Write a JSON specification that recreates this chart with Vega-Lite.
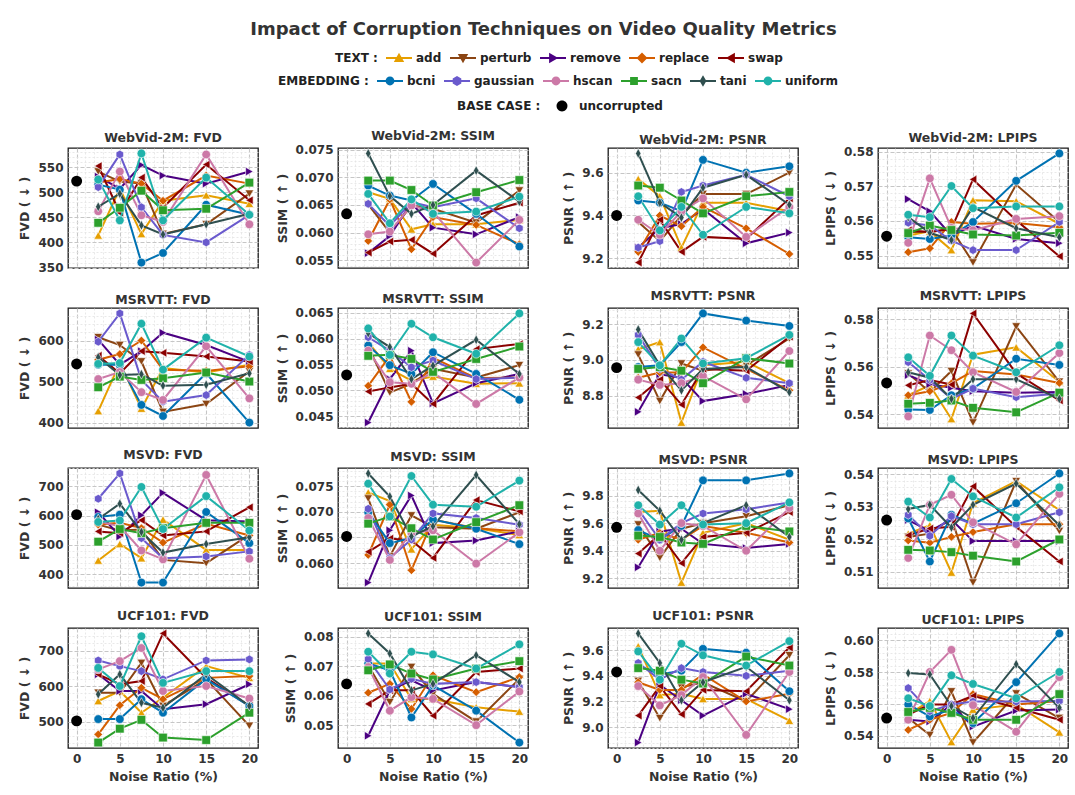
{
"$schema": "https://vega.github.io/schema/vega-lite/v6.json",
"title": {"text": "Impact of Corruption Techniques on Video Quality Metrics", "fontSize": 18, "font": "DejaVu Sans", "fontWeight": "bold", "color": "#333333", "anchor": "middle", "frame": "bounds", "offset": 6},
"padding": {"left": 18, "top": 21, "right": 5, "bottom": 5},
"spacing": 43,
"bounds": "flush",
"config": {
 "font": "DejaVu Sans",
 "view": {"stroke": "#1a1a1a", "strokeWidth": 1.3},
 "axis": {"labelFont": "DejaVu Sans", "labelFontSize": 12, "labelFontWeight": "bold", "labelColor": "#333333", "titleFont": "DejaVu Sans", "titleFontSize": 12.5, "titleFontWeight": "bold", "titleColor": "#333333", "ticks": false, "domain": false, "labelOverlap": false, "labelFlush": false, "labelPadding": 5, "titlePadding": 6, "grid": true},
 "title": {"font": "DejaVu Sans", "fontSize": 12.5, "fontWeight": "bold", "color": "#333333", "offset": 1},
 "legend": {"labelFont": "DejaVu Sans", "labelFontSize": 12, "labelFontWeight": "bold", "labelColor": "#222222", "titleFont": "DejaVu Sans", "titleFontSize": 12, "titleFontWeight": "bold", "titleColor": "#222222"}
},
"datasets": {
"p1": [
{"s":"add","x":2.5,"y":414},{"s":"add","x":5,"y":507},{"s":"add","x":7.5,"y":417},{"s":"add","x":10,"y":483},{"s":"add","x":15,"y":494},{"s":"add","x":20,"y":477},
{"s":"perturb","x":2.5,"y":541},{"s":"perturb","x":5,"y":521},{"s":"perturb","x":7.5,"y":517},{"s":"perturb","x":10,"y":417},{"s":"perturb","x":15,"y":436},{"s":"perturb","x":20,"y":497},
{"s":"remove","x":2.5,"y":531},{"s":"remove","x":5,"y":507},{"s":"remove","x":7.5,"y":554},{"s":"remove","x":10,"y":533},{"s":"remove","x":15,"y":517},{"s":"remove","x":20,"y":541},
{"s":"replace","x":2.5,"y":519},{"s":"replace","x":5,"y":526},{"s":"replace","x":7.5,"y":517},{"s":"replace","x":10,"y":483},{"s":"replace","x":15,"y":533},{"s":"replace","x":20,"y":517},
{"s":"swap","x":2.5,"y":552},{"s":"swap","x":5,"y":459},{"s":"swap","x":7.5,"y":529},{"s":"swap","x":10,"y":469},{"s":"swap","x":15,"y":555},{"s":"swap","x":20,"y":484},
{"s":"bcni","x":2.5,"y":515},{"s":"bcni","x":5,"y":505},{"s":"bcni","x":7.5,"y":360},{"s":"bcni","x":10,"y":379},{"s":"bcni","x":15,"y":475},{"s":"bcni","x":20,"y":455},
{"s":"gaussian","x":2.5,"y":510},{"s":"gaussian","x":5,"y":575},{"s":"gaussian","x":7.5,"y":470},{"s":"gaussian","x":10,"y":415},{"s":"gaussian","x":15,"y":400},{"s":"gaussian","x":20,"y":455},
{"s":"hscan","x":2.5,"y":462},{"s":"hscan","x":5,"y":541},{"s":"hscan","x":7.5,"y":454},{"s":"hscan","x":10,"y":441},{"s":"hscan","x":15,"y":575},{"s":"hscan","x":20,"y":436},
{"s":"sacn","x":2.5,"y":439},{"s":"sacn","x":5,"y":469},{"s":"sacn","x":7.5,"y":503},{"s":"sacn","x":10,"y":464},{"s":"sacn","x":15,"y":467},{"s":"sacn","x":20,"y":519},
{"s":"tani","x":2.5,"y":471},{"s":"tani","x":5,"y":497},{"s":"tani","x":7.5,"y":434},{"s":"tani","x":10,"y":416},{"s":"tani","x":15,"y":436},{"s":"tani","x":20,"y":457},
{"s":"uniform","x":2.5,"y":525},{"s":"uniform","x":5,"y":444},{"s":"uniform","x":7.5,"y":577},{"s":"uniform","x":10,"y":444},{"s":"uniform","x":15,"y":529},{"s":"uniform","x":20,"y":455},
{"s":"uncorrupted","x":0,"y":522}],
"p2": [
{"s":"add","x":2.5,"y":0.0673},{"s":"add","x":5,"y":0.0661},{"s":"add","x":7.5,"y":0.0606},{"s":"add","x":10,"y":0.0615},{"s":"add","x":15,"y":0.0615},{"s":"add","x":20,"y":0.0623},
{"s":"perturb","x":2.5,"y":0.0651},{"s":"perturb","x":5,"y":0.06},{"s":"perturb","x":7.5,"y":0.0649},{"s":"perturb","x":10,"y":0.0643},{"s":"perturb","x":15,"y":0.0618},{"s":"perturb","x":20,"y":0.0676},
{"s":"remove","x":2.5,"y":0.0563},{"s":"remove","x":5,"y":0.0594},{"s":"remove","x":7.5,"y":0.0654},{"s":"remove","x":10,"y":0.0609},{"s":"remove","x":15,"y":0.0597},{"s":"remove","x":20,"y":0.0628},
{"s":"replace","x":2.5,"y":0.0585},{"s":"replace","x":5,"y":0.066},{"s":"replace","x":7.5,"y":0.057},{"s":"replace","x":10,"y":0.0628},{"s":"replace","x":15,"y":0.0614},{"s":"replace","x":20,"y":0.0579},
{"s":"swap","x":2.5,"y":0.0564},{"s":"swap","x":5,"y":0.0584},{"s":"swap","x":7.5,"y":0.0587},{"s":"swap","x":10,"y":0.0562},{"s":"swap","x":15,"y":0.0631},{"s":"swap","x":20,"y":0.0654},
{"s":"bcni","x":2.5,"y":0.0685},{"s":"bcni","x":5,"y":0.0667},{"s":"bcni","x":7.5,"y":0.0658},{"s":"bcni","x":10,"y":0.0688},{"s":"bcni","x":15,"y":0.0634},{"s":"bcni","x":20,"y":0.0575},
{"s":"gaussian","x":2.5,"y":0.0652},{"s":"gaussian","x":5,"y":0.0612},{"s":"gaussian","x":7.5,"y":0.0655},{"s":"gaussian","x":10,"y":0.0646},{"s":"gaussian","x":15,"y":0.0662},{"s":"gaussian","x":20,"y":0.0608},
{"s":"hscan","x":2.5,"y":0.0597},{"s":"hscan","x":5,"y":0.0602},{"s":"hscan","x":7.5,"y":0.0649},{"s":"hscan","x":10,"y":0.0638},{"s":"hscan","x":15,"y":0.0546},{"s":"hscan","x":20,"y":0.0623},
{"s":"sacn","x":2.5,"y":0.0694},{"s":"sacn","x":5,"y":0.0694},{"s":"sacn","x":7.5,"y":0.0677},{"s":"sacn","x":10,"y":0.0649},{"s":"sacn","x":15,"y":0.0673},{"s":"sacn","x":20,"y":0.0695},
{"s":"tani","x":2.5,"y":0.0743},{"s":"tani","x":5,"y":0.0666},{"s":"tani","x":7.5,"y":0.0634},{"s":"tani","x":10,"y":0.065},{"s":"tani","x":15,"y":0.0712},{"s":"tani","x":20,"y":0.0656},
{"s":"uniform","x":2.5,"y":0.067},{"s":"uniform","x":5,"y":0.0617},{"s":"uniform","x":7.5,"y":0.066},{"s":"uniform","x":10,"y":0.0634},{"s":"uniform","x":15,"y":0.0638},{"s":"uniform","x":20,"y":0.0665},
{"s":"uncorrupted","x":0,"y":0.0634}],
"p3": [
{"s":"add","x":2.5,"y":9.57},{"s":"add","x":5,"y":9.49},{"s":"add","x":7.5,"y":9.25},{"s":"add","x":10,"y":9.46},{"s":"add","x":15,"y":9.46},{"s":"add","x":20,"y":9.42},
{"s":"perturb","x":2.5,"y":9.37},{"s":"perturb","x":5,"y":9.28},{"s":"perturb","x":7.5,"y":9.4},{"s":"perturb","x":10,"y":9.5},{"s":"perturb","x":15,"y":9.5},{"s":"perturb","x":20,"y":9.6},
{"s":"remove","x":2.5,"y":9.25},{"s":"remove","x":5,"y":9.34},{"s":"remove","x":7.5,"y":9.36},{"s":"remove","x":10,"y":9.43},{"s":"remove","x":15,"y":9.27},{"s":"remove","x":20,"y":9.32},
{"s":"replace","x":2.5,"y":9.23},{"s":"replace","x":5,"y":9.4},{"s":"replace","x":7.5,"y":9.35},{"s":"replace","x":10,"y":9.44},{"s":"replace","x":15,"y":9.34},{"s":"replace","x":20,"y":9.22},
{"s":"swap","x":2.5,"y":9.18},{"s":"swap","x":5,"y":9.38},{"s":"swap","x":7.5,"y":9.23},{"s":"swap","x":10,"y":9.3},{"s":"swap","x":15,"y":9.29},{"s":"swap","x":20,"y":9.48},
{"s":"bcni","x":2.5,"y":9.47},{"s":"bcni","x":5,"y":9.46},{"s":"bcni","x":7.5,"y":9.42},{"s":"bcni","x":10,"y":9.66},{"s":"bcni","x":15,"y":9.6},{"s":"bcni","x":20,"y":9.63},
{"s":"gaussian","x":2.5,"y":9.25},{"s":"gaussian","x":5,"y":9.28},{"s":"gaussian","x":7.5,"y":9.51},{"s":"gaussian","x":10,"y":9.54},{"s":"gaussian","x":15,"y":9.59},{"s":"gaussian","x":20,"y":9.49},
{"s":"hscan","x":2.5,"y":9.38},{"s":"hscan","x":5,"y":9.31},{"s":"hscan","x":7.5,"y":9.42},{"s":"hscan","x":10,"y":9.48},{"s":"hscan","x":15,"y":9.3},{"s":"hscan","x":20,"y":9.44},
{"s":"sacn","x":2.5,"y":9.54},{"s":"sacn","x":5,"y":9.53},{"s":"sacn","x":7.5,"y":9.47},{"s":"sacn","x":10,"y":9.41},{"s":"sacn","x":15,"y":9.49},{"s":"sacn","x":20,"y":9.51},
{"s":"tani","x":2.5,"y":9.69},{"s":"tani","x":5,"y":9.46},{"s":"tani","x":7.5,"y":9.39},{"s":"tani","x":10,"y":9.53},{"s":"tani","x":15,"y":9.59},{"s":"tani","x":20,"y":9.45},
{"s":"uniform","x":2.5,"y":9.49},{"s":"uniform","x":5,"y":9.33},{"s":"uniform","x":7.5,"y":9.44},{"s":"uniform","x":10,"y":9.31},{"s":"uniform","x":15,"y":9.44},{"s":"uniform","x":20,"y":9.41},
{"s":"uncorrupted","x":0,"y":9.4}],
"p4": [
{"s":"add","x":2.5,"y":0.5558},{"s":"add","x":5,"y":0.557},{"s":"add","x":7.5,"y":0.5516},{"s":"add","x":10,"y":0.566},{"s":"add","x":15,"y":0.5657},{"s":"add","x":20,"y":0.5592},
{"s":"perturb","x":2.5,"y":0.5568},{"s":"perturb","x":5,"y":0.5568},{"s":"perturb","x":7.5,"y":0.5577},{"s":"perturb","x":10,"y":0.548},{"s":"perturb","x":15,"y":0.5705},{"s":"perturb","x":20,"y":0.5597},
{"s":"remove","x":2.5,"y":0.5663},{"s":"remove","x":5,"y":0.5628},{"s":"remove","x":7.5,"y":0.5558},{"s":"remove","x":10,"y":0.5587},{"s":"remove","x":15,"y":0.5548},{"s":"remove","x":20,"y":0.5536},
{"s":"replace","x":2.5,"y":0.551},{"s":"replace","x":5,"y":0.5521},{"s":"replace","x":7.5,"y":0.5597},{"s":"replace","x":10,"y":0.5592},{"s":"replace","x":15,"y":0.5594},{"s":"replace","x":20,"y":0.5582},
{"s":"swap","x":2.5,"y":0.5573},{"s":"swap","x":5,"y":0.5568},{"s":"swap","x":7.5,"y":0.5577},{"s":"swap","x":10,"y":0.572},{"s":"swap","x":15,"y":0.5602},{"s":"swap","x":20,"y":0.5498},
{"s":"bcni","x":2.5,"y":0.5553},{"s":"bcni","x":5,"y":0.5548},{"s":"bcni","x":7.5,"y":0.5558},{"s":"bcni","x":10,"y":0.5597},{"s":"bcni","x":15,"y":0.5716},{"s":"bcni","x":20,"y":0.5795},
{"s":"gaussian","x":2.5,"y":0.5595},{"s":"gaussian","x":5,"y":0.5587},{"s":"gaussian","x":7.5,"y":0.5543},{"s":"gaussian","x":10,"y":0.5516},{"s":"gaussian","x":15,"y":0.5516},{"s":"gaussian","x":20,"y":0.5597},
{"s":"hscan","x":2.5,"y":0.5537},{"s":"hscan","x":5,"y":0.5723},{"s":"hscan","x":7.5,"y":0.558},{"s":"hscan","x":10,"y":0.5573},{"s":"hscan","x":15,"y":0.5606},{"s":"hscan","x":20,"y":0.5614},
{"s":"sacn","x":2.5,"y":0.5565},{"s":"sacn","x":5,"y":0.5587},{"s":"sacn","x":7.5,"y":0.5574},{"s":"sacn","x":10,"y":0.5561},{"s":"sacn","x":15,"y":0.5558},{"s":"sacn","x":20,"y":0.5566},
{"s":"tani","x":2.5,"y":0.5611},{"s":"tani","x":5,"y":0.5566},{"s":"tani","x":7.5,"y":0.5545},{"s":"tani","x":10,"y":0.564},{"s":"tani","x":15,"y":0.5579},{"s":"tani","x":20,"y":0.5553},
{"s":"uniform","x":2.5,"y":0.5618},{"s":"uniform","x":5,"y":0.5611},{"s":"uniform","x":7.5,"y":0.5701},{"s":"uniform","x":10,"y":0.5637},{"s":"uniform","x":15,"y":0.5642},{"s":"uniform","x":20,"y":0.5642},
{"s":"uncorrupted","x":0,"y":0.5556}],
"p5": [
{"s":"add","x":2.5,"y":428},{"s":"add","x":5,"y":545},{"s":"add","x":7.5,"y":434},{"s":"add","x":10,"y":533},{"s":"add","x":15,"y":522},{"s":"add","x":20,"y":541},
{"s":"perturb","x":2.5,"y":608},{"s":"perturb","x":5,"y":589},{"s":"perturb","x":7.5,"y":549},{"s":"perturb","x":10,"y":426},{"s":"perturb","x":15,"y":445},{"s":"perturb","x":20,"y":525},
{"s":"remove","x":2.5,"y":602},{"s":"remove","x":5,"y":541},{"s":"remove","x":7.5,"y":574},{"s":"remove","x":10,"y":619},{"s":"remove","x":15,"y":589},{"s":"remove","x":20,"y":548},
{"s":"replace","x":2.5,"y":553},{"s":"replace","x":5,"y":567},{"s":"replace","x":7.5,"y":600},{"s":"replace","x":10,"y":529},{"s":"replace","x":15,"y":526},{"s":"replace","x":20,"y":537},
{"s":"swap","x":2.5,"y":563},{"s":"swap","x":5,"y":520},{"s":"swap","x":7.5,"y":574},{"s":"swap","x":10,"y":570},{"s":"swap","x":15,"y":561},{"s":"swap","x":20,"y":549},
{"s":"bcni","x":2.5,"y":541},{"s":"bcni","x":5,"y":541},{"s":"bcni","x":7.5,"y":443},{"s":"bcni","x":10,"y":416},{"s":"bcni","x":15,"y":520},{"s":"bcni","x":20,"y":400},
{"s":"gaussian","x":2.5,"y":597},{"s":"gaussian","x":5,"y":666},{"s":"gaussian","x":7.5,"y":504},{"s":"gaussian","x":10,"y":451},{"s":"gaussian","x":15,"y":467},{"s":"gaussian","x":20,"y":565},
{"s":"hscan","x":2.5,"y":506},{"s":"hscan","x":5,"y":523},{"s":"hscan","x":7.5,"y":474},{"s":"hscan","x":10,"y":455},{"s":"hscan","x":15,"y":586},{"s":"hscan","x":20,"y":459},
{"s":"sacn","x":2.5,"y":486},{"s":"sacn","x":5,"y":512},{"s":"sacn","x":7.5,"y":504},{"s":"sacn","x":10,"y":508},{"s":"sacn","x":15,"y":522},{"s":"sacn","x":20,"y":500},
{"s":"tani","x":2.5,"y":559},{"s":"tani","x":5,"y":516},{"s":"tani","x":7.5,"y":518},{"s":"tani","x":10,"y":490},{"s":"tani","x":15,"y":492},{"s":"tani","x":20,"y":520},
{"s":"uniform","x":2.5,"y":543},{"s":"uniform","x":5,"y":545},{"s":"uniform","x":7.5,"y":641},{"s":"uniform","x":10,"y":529},{"s":"uniform","x":15,"y":607},{"s":"uniform","x":20,"y":561},
{"s":"uncorrupted","x":0,"y":543}],
"p6": [
{"s":"add","x":2.5,"y":0.0593},{"s":"add","x":5,"y":0.0542},{"s":"add","x":7.5,"y":0.0519},{"s":"add","x":10,"y":0.0527},{"s":"add","x":15,"y":0.0513},{"s":"add","x":20,"y":0.0514},
{"s":"perturb","x":2.5,"y":0.0585},{"s":"perturb","x":5,"y":0.0496},{"s":"perturb","x":7.5,"y":0.0513},{"s":"perturb","x":10,"y":0.0542},{"s":"perturb","x":15,"y":0.0525},{"s":"perturb","x":20,"y":0.0549},
{"s":"remove","x":2.5,"y":0.0438},{"s":"remove","x":5,"y":0.0522},{"s":"remove","x":7.5,"y":0.0577},{"s":"remove","x":10,"y":0.0475},{"s":"remove","x":15,"y":0.0514},{"s":"remove","x":20,"y":0.0532},
{"s":"replace","x":2.5,"y":0.0509},{"s":"replace","x":5,"y":0.0567},{"s":"replace","x":7.5,"y":0.0478},{"s":"replace","x":10,"y":0.0563},{"s":"replace","x":15,"y":0.0524},{"s":"replace","x":20,"y":0.0525},
{"s":"swap","x":2.5,"y":0.0498},{"s":"swap","x":5,"y":0.0506},{"s":"swap","x":7.5,"y":0.0513},{"s":"swap","x":10,"y":0.0474},{"s":"swap","x":15,"y":0.058},{"s":"swap","x":20,"y":0.059},
{"s":"bcni","x":2.5,"y":0.0587},{"s":"bcni","x":5,"y":0.0549},{"s":"bcni","x":7.5,"y":0.0532},{"s":"bcni","x":10,"y":0.0574},{"s":"bcni","x":15,"y":0.0532},{"s":"bcni","x":20,"y":0.0482},
{"s":"gaussian","x":2.5,"y":0.0603},{"s":"gaussian","x":5,"y":0.0577},{"s":"gaussian","x":7.5,"y":0.0545},{"s":"gaussian","x":10,"y":0.0558},{"s":"gaussian","x":15,"y":0.0522},{"s":"gaussian","x":20,"y":0.0525},
{"s":"hscan","x":2.5,"y":0.0577},{"s":"hscan","x":5,"y":0.0516},{"s":"hscan","x":7.5,"y":0.0513},{"s":"hscan","x":10,"y":0.0535},{"s":"hscan","x":15,"y":0.0474},{"s":"hscan","x":20,"y":0.0525},
{"s":"sacn","x":2.5,"y":0.0567},{"s":"sacn","x":5,"y":0.0569},{"s":"sacn","x":7.5,"y":0.0561},{"s":"sacn","x":10,"y":0.0536},{"s":"sacn","x":15,"y":0.0561},{"s":"sacn","x":20,"y":0.0585},
{"s":"tani","x":2.5,"y":0.0611},{"s":"tani","x":5,"y":0.0584},{"s":"tani","x":7.5,"y":0.0522},{"s":"tani","x":10,"y":0.0548},{"s":"tani","x":15,"y":0.0598},{"s":"tani","x":20,"y":0.0532},
{"s":"uniform","x":2.5,"y":0.062},{"s":"uniform","x":5,"y":0.0569},{"s":"uniform","x":7.5,"y":0.0629},{"s":"uniform","x":10,"y":0.0603},{"s":"uniform","x":15,"y":0.0571},{"s":"uniform","x":20,"y":0.0649},
{"s":"uncorrupted","x":0,"y":0.053}],
"p7": [
{"s":"add","x":2.5,"y":9.06},{"s":"add","x":5,"y":9.1},{"s":"add","x":7.5,"y":8.65},{"s":"add","x":10,"y":8.97},{"s":"add","x":15,"y":8.99},{"s":"add","x":20,"y":8.87},
{"s":"perturb","x":2.5,"y":9.03},{"s":"perturb","x":5,"y":8.77},{"s":"perturb","x":7.5,"y":8.98},{"s":"perturb","x":10,"y":8.94},{"s":"perturb","x":15,"y":8.97},{"s":"perturb","x":20,"y":9.12},
{"s":"remove","x":2.5,"y":8.71},{"s":"remove","x":5,"y":8.92},{"s":"remove","x":7.5,"y":8.9},{"s":"remove","x":10,"y":8.77},{"s":"remove","x":15,"y":8.81},{"s":"remove","x":20,"y":8.86},
{"s":"replace","x":2.5,"y":8.9},{"s":"replace","x":5,"y":8.93},{"s":"replace","x":7.5,"y":8.93},{"s":"replace","x":10,"y":9.07},{"s":"replace","x":15,"y":8.95},{"s":"replace","x":20,"y":8.83},
{"s":"swap","x":2.5,"y":8.79},{"s":"swap","x":5,"y":8.89},{"s":"swap","x":7.5,"y":8.75},{"s":"swap","x":10,"y":8.95},{"s":"swap","x":15,"y":8.94},{"s":"swap","x":20,"y":9.13},
{"s":"bcni","x":2.5,"y":8.96},{"s":"bcni","x":5,"y":8.97},{"s":"bcni","x":7.5,"y":9.1},{"s":"bcni","x":10,"y":9.26},{"s":"bcni","x":15,"y":9.22},{"s":"bcni","x":20,"y":9.19},
{"s":"gaussian","x":2.5,"y":9.14},{"s":"gaussian","x":5,"y":8.95},{"s":"gaussian","x":7.5,"y":8.89},{"s":"gaussian","x":10,"y":8.99},{"s":"gaussian","x":15,"y":8.9},{"s":"gaussian","x":20,"y":8.87},
{"s":"hscan","x":2.5,"y":8.89},{"s":"hscan","x":5,"y":8.86},{"s":"hscan","x":7.5,"y":8.87},{"s":"hscan","x":10,"y":8.91},{"s":"hscan","x":15,"y":8.78},{"s":"hscan","x":20,"y":9.05},
{"s":"sacn","x":2.5,"y":8.95},{"s":"sacn","x":5,"y":8.96},{"s":"sacn","x":7.5,"y":8.94},{"s":"sacn","x":10,"y":8.87},{"s":"sacn","x":15,"y":9.01},{"s":"sacn","x":20,"y":8.98},
{"s":"tani","x":2.5,"y":9.17},{"s":"tani","x":5,"y":8.97},{"s":"tani","x":7.5,"y":8.83},{"s":"tani","x":10,"y":8.95},{"s":"tani","x":15,"y":8.96},{"s":"tani","x":20,"y":8.82},
{"s":"uniform","x":2.5,"y":9.1},{"s":"uniform","x":5,"y":8.97},{"s":"uniform","x":7.5,"y":9.12},{"s":"uniform","x":10,"y":8.98},{"s":"uniform","x":15,"y":9.01},{"s":"uniform","x":20,"y":9.14},
{"s":"uncorrupted","x":0,"y":8.957}],
"p8": [
{"s":"add","x":2.5,"y":0.5479},{"s":"add","x":5,"y":0.5521},{"s":"add","x":7.5,"y":0.5379},{"s":"add","x":10,"y":0.565},{"s":"add","x":15,"y":0.5681},{"s":"add","x":20,"y":0.5536},
{"s":"perturb","x":2.5,"y":0.5571},{"s":"perturb","x":5,"y":0.5493},{"s":"perturb","x":7.5,"y":0.5581},{"s":"perturb","x":10,"y":0.5364},{"s":"perturb","x":15,"y":0.5769},{"s":"perturb","x":20,"y":0.5536},
{"s":"remove","x":2.5,"y":0.5564},{"s":"remove","x":5,"y":0.5526},{"s":"remove","x":7.5,"y":0.5511},{"s":"remove","x":10,"y":0.5496},{"s":"remove","x":15,"y":0.549},{"s":"remove","x":20,"y":0.5493},
{"s":"replace","x":2.5,"y":0.5479},{"s":"replace","x":5,"y":0.5496},{"s":"replace","x":7.5,"y":0.5529},{"s":"replace","x":10,"y":0.5581},{"s":"replace","x":15,"y":0.5567},{"s":"replace","x":20,"y":0.5531},
{"s":"swap","x":2.5,"y":0.5521},{"s":"swap","x":5,"y":0.5543},{"s":"swap","x":7.5,"y":0.5524},{"s":"swap","x":10,"y":0.5824},{"s":"swap","x":15,"y":0.5571},{"s":"swap","x":20,"y":0.5457},
{"s":"bcni","x":2.5,"y":0.5419},{"s":"bcni","x":5,"y":0.5417},{"s":"bcni","x":7.5,"y":0.5479},{"s":"bcni","x":10,"y":0.5507},{"s":"bcni","x":15,"y":0.5633},{"s":"bcni","x":20,"y":0.5607},
{"s":"gaussian","x":2.5,"y":0.5619},{"s":"gaussian","x":5,"y":0.5543},{"s":"gaussian","x":7.5,"y":0.5464},{"s":"gaussian","x":10,"y":0.5507},{"s":"gaussian","x":15,"y":0.5471},{"s":"gaussian","x":20,"y":0.5486},
{"s":"hscan","x":2.5,"y":0.539},{"s":"hscan","x":5,"y":0.5731},{"s":"hscan","x":7.5,"y":0.5669},{"s":"hscan","x":10,"y":0.5576},{"s":"hscan","x":15,"y":0.5493},{"s":"hscan","x":20,"y":0.5657},
{"s":"sacn","x":2.5,"y":0.5443},{"s":"sacn","x":5,"y":0.5447},{"s":"sacn","x":7.5,"y":0.5457},{"s":"sacn","x":10,"y":0.5426},{"s":"sacn","x":15,"y":0.5407},{"s":"sacn","x":20,"y":0.549},
{"s":"tani","x":2.5,"y":0.5576},{"s":"tani","x":5,"y":0.5553},{"s":"tani","x":7.5,"y":0.5464},{"s":"tani","x":10,"y":0.5547},{"s":"tani","x":15,"y":0.5547},{"s":"tani","x":20,"y":0.5464},
{"s":"uniform","x":2.5,"y":0.5639},{"s":"uniform","x":5,"y":0.5561},{"s":"uniform","x":7.5,"y":0.5731},{"s":"uniform","x":10,"y":0.5646},{"s":"uniform","x":15,"y":0.5576},{"s":"uniform","x":20,"y":0.569},
{"s":"uncorrupted","x":0,"y":0.5531}],
"p9": [
{"s":"add","x":2.5,"y":447},{"s":"add","x":5,"y":503},{"s":"add","x":7.5,"y":455},{"s":"add","x":10,"y":586},{"s":"add","x":15,"y":483},{"s":"add","x":20,"y":483},
{"s":"perturb","x":2.5,"y":569},{"s":"perturb","x":5,"y":549},{"s":"perturb","x":7.5,"y":552},{"s":"perturb","x":10,"y":449},{"s":"perturb","x":15,"y":438},{"s":"perturb","x":20,"y":535},
{"s":"remove","x":2.5,"y":611},{"s":"remove","x":5,"y":529},{"s":"remove","x":7.5,"y":601},{"s":"remove","x":10,"y":677},{"s":"remove","x":15,"y":584},{"s":"remove","x":20,"y":580},
{"s":"replace","x":2.5,"y":569},{"s":"replace","x":5,"y":575},{"s":"replace","x":7.5,"y":557},{"s":"replace","x":10,"y":508},{"s":"replace","x":15,"y":572},{"s":"replace","x":20,"y":532},
{"s":"swap","x":2.5,"y":546},{"s":"swap","x":5,"y":540},{"s":"swap","x":7.5,"y":584},{"s":"swap","x":10,"y":532},{"s":"swap","x":15,"y":546},{"s":"swap","x":20,"y":628},
{"s":"bcni","x":2.5,"y":595},{"s":"bcni","x":5,"y":603},{"s":"bcni","x":7.5,"y":372},{"s":"bcni","x":10,"y":372},{"s":"bcni","x":15,"y":612},{"s":"bcni","x":20,"y":506},
{"s":"gaussian","x":2.5,"y":657},{"s":"gaussian","x":5,"y":743},{"s":"gaussian","x":7.5,"y":523},{"s":"gaussian","x":10,"y":455},{"s":"gaussian","x":15,"y":461},{"s":"gaussian","x":20,"y":478},
{"s":"hscan","x":2.5,"y":580},{"s":"hscan","x":5,"y":563},{"s":"hscan","x":7.5,"y":481},{"s":"hscan","x":10,"y":451},{"s":"hscan","x":15,"y":738},{"s":"hscan","x":20,"y":453},
{"s":"sacn","x":2.5,"y":511},{"s":"sacn","x":5,"y":554},{"s":"sacn","x":7.5,"y":540},{"s":"sacn","x":10,"y":557},{"s":"sacn","x":15,"y":575},{"s":"sacn","x":20,"y":575},
{"s":"tani","x":2.5,"y":588},{"s":"tani","x":5,"y":640},{"s":"tani","x":7.5,"y":544},{"s":"tani","x":10,"y":474},{"s":"tani","x":15,"y":503},{"s":"tani","x":20,"y":526},
{"s":"uniform","x":2.5,"y":578},{"s":"uniform","x":5,"y":583},{"s":"uniform","x":7.5,"y":697},{"s":"uniform","x":10,"y":554},{"s":"uniform","x":15,"y":666},{"s":"uniform","x":20,"y":549},
{"s":"uncorrupted","x":0,"y":603}],
"p10": [
{"s":"add","x":2.5,"y":0.0738},{"s":"add","x":5,"y":0.0721},{"s":"add","x":7.5,"y":0.0627},{"s":"add","x":10,"y":0.0675},{"s":"add","x":15,"y":0.0668},{"s":"add","x":20,"y":0.0655},
{"s":"perturb","x":2.5,"y":0.0726},{"s":"perturb","x":5,"y":0.0613},{"s":"perturb","x":7.5,"y":0.0693},{"s":"perturb","x":10,"y":0.067},{"s":"perturb","x":15,"y":0.0667},{"s":"perturb","x":20,"y":0.0699},
{"s":"remove","x":2.5,"y":0.0562},{"s":"remove","x":5,"y":0.0664},{"s":"remove","x":7.5,"y":0.0732},{"s":"remove","x":10,"y":0.0639},{"s":"remove","x":15,"y":0.0644},{"s":"remove","x":20,"y":0.0662},
{"s":"replace","x":2.5,"y":0.0616},{"s":"replace","x":5,"y":0.0714},{"s":"replace","x":7.5,"y":0.0586},{"s":"replace","x":10,"y":0.0685},{"s":"replace","x":15,"y":0.0668},{"s":"replace","x":20,"y":0.0662},
{"s":"swap","x":2.5,"y":0.0622},{"s":"swap","x":5,"y":0.0648},{"s":"swap","x":7.5,"y":0.0644},{"s":"swap","x":10,"y":0.061},{"s":"swap","x":15,"y":0.0723},{"s":"swap","x":20,"y":0.0701},
{"s":"bcni","x":2.5,"y":0.0699},{"s":"bcni","x":5,"y":0.0639},{"s":"bcni","x":7.5,"y":0.0649},{"s":"bcni","x":10,"y":0.0685},{"s":"bcni","x":15,"y":0.0667},{"s":"bcni","x":20,"y":0.0637},
{"s":"gaussian","x":2.5,"y":0.0706},{"s":"gaussian","x":5,"y":0.061},{"s":"gaussian","x":7.5,"y":0.0646},{"s":"gaussian","x":10,"y":0.0697},{"s":"gaussian","x":15,"y":0.0688},{"s":"gaussian","x":20,"y":0.0675},
{"s":"hscan","x":2.5,"y":0.0688},{"s":"hscan","x":5,"y":0.0606},{"s":"hscan","x":7.5,"y":0.0659},{"s":"hscan","x":10,"y":0.0664},{"s":"hscan","x":15,"y":0.0599},{"s":"hscan","x":20,"y":0.066},
{"s":"sacn","x":2.5,"y":0.0677},{"s":"sacn","x":5,"y":0.0691},{"s":"sacn","x":7.5,"y":0.0668},{"s":"sacn","x":10,"y":0.0646},{"s":"sacn","x":15,"y":0.068},{"s":"sacn","x":20,"y":0.0713},
{"s":"tani","x":2.5,"y":0.0775},{"s":"tani","x":5,"y":0.073},{"s":"tani","x":7.5,"y":0.0652},{"s":"tani","x":10,"y":0.0672},{"s":"tani","x":15,"y":0.0772},{"s":"tani","x":20,"y":0.0676},
{"s":"uniform","x":2.5,"y":0.0755},{"s":"uniform","x":5,"y":0.0691},{"s":"uniform","x":7.5,"y":0.077},{"s":"uniform","x":10,"y":0.0714},{"s":"uniform","x":15,"y":0.071},{"s":"uniform","x":20,"y":0.0761},
{"s":"uncorrupted","x":0,"y":0.0652}],
"p11": [
{"s":"add","x":2.5,"y":9.68},{"s":"add","x":5,"y":9.69},{"s":"add","x":7.5,"y":9.17},{"s":"add","x":10,"y":9.53},{"s":"add","x":15,"y":9.6},{"s":"add","x":20,"y":9.48},
{"s":"perturb","x":2.5,"y":9.59},{"s":"perturb","x":5,"y":9.35},{"s":"perturb","x":7.5,"y":9.56},{"s":"perturb","x":10,"y":9.6},{"s":"perturb","x":15,"y":9.65},{"s":"perturb","x":20,"y":9.73},
{"s":"remove","x":2.5,"y":9.28},{"s":"remove","x":5,"y":9.54},{"s":"remove","x":7.5,"y":9.56},{"s":"remove","x":10,"y":9.45},{"s":"remove","x":15,"y":9.42},{"s":"remove","x":20,"y":9.45},
{"s":"replace","x":2.5,"y":9.48},{"s":"replace","x":5,"y":9.53},{"s":"replace","x":7.5,"y":9.48},{"s":"replace","x":10,"y":9.58},{"s":"replace","x":15,"y":9.53},{"s":"replace","x":20,"y":9.46},
{"s":"swap","x":2.5,"y":9.38},{"s":"swap","x":5,"y":9.52},{"s":"swap","x":7.5,"y":9.31},{"s":"swap","x":10,"y":9.5},{"s":"swap","x":15,"y":9.53},{"s":"swap","x":20,"y":9.68},
{"s":"bcni","x":2.5,"y":9.55},{"s":"bcni","x":5,"y":9.48},{"s":"bcni","x":7.5,"y":9.58},{"s":"bcni","x":10,"y":9.91},{"s":"bcni","x":15,"y":9.91},{"s":"bcni","x":20,"y":9.96},
{"s":"gaussian","x":2.5,"y":9.7},{"s":"gaussian","x":5,"y":9.48},{"s":"gaussian","x":7.5,"y":9.6},{"s":"gaussian","x":10,"y":9.67},{"s":"gaussian","x":15,"y":9.7},{"s":"gaussian","x":20,"y":9.75},
{"s":"hscan","x":2.5,"y":9.67},{"s":"hscan","x":5,"y":9.4},{"s":"hscan","x":7.5,"y":9.6},{"s":"hscan","x":10,"y":9.58},{"s":"hscan","x":15,"y":9.4},{"s":"hscan","x":20,"y":9.71},
{"s":"sacn","x":2.5,"y":9.51},{"s":"sacn","x":5,"y":9.5},{"s":"sacn","x":7.5,"y":9.46},{"s":"sacn","x":10,"y":9.45},{"s":"sacn","x":15,"y":9.58},{"s":"sacn","x":20,"y":9.54},
{"s":"tani","x":2.5,"y":9.84},{"s":"tani","x":5,"y":9.69},{"s":"tani","x":7.5,"y":9.48},{"s":"tani","x":10,"y":9.6},{"s":"tani","x":15,"y":9.73},{"s":"tani","x":20,"y":9.5},
{"s":"uniform","x":2.5,"y":9.73},{"s":"uniform","x":5,"y":9.59},{"s":"uniform","x":7.5,"y":9.73},{"s":"uniform","x":10,"y":9.59},{"s":"uniform","x":15,"y":9.6},{"s":"uniform","x":20,"y":9.75},
{"s":"uncorrupted","x":0,"y":9.57}],
"p12": [
{"s":"add","x":2.5,"y":0.5217},{"s":"add","x":5,"y":0.5243},{"s":"add","x":7.5,"y":0.5097},{"s":"add","x":10,"y":0.5311},{"s":"add","x":15,"y":0.5379},{"s":"add","x":20,"y":0.529},
{"s":"perturb","x":2.5,"y":0.5207},{"s":"perturb","x":5,"y":0.5217},{"s":"perturb","x":7.5,"y":0.5264},{"s":"perturb","x":10,"y":0.5066},{"s":"perturb","x":15,"y":0.5379},{"s":"perturb","x":20,"y":0.5225},
{"s":"remove","x":2.5,"y":0.5259},{"s":"remove","x":5,"y":0.5225},{"s":"remove","x":7.5,"y":0.5261},{"s":"remove","x":10,"y":0.5194},{"s":"remove","x":15,"y":0.5194},{"s":"remove","x":20,"y":0.5194},
{"s":"replace","x":2.5,"y":0.5196},{"s":"replace","x":5,"y":0.5189},{"s":"replace","x":7.5,"y":0.5207},{"s":"replace","x":10,"y":0.5222},{"s":"replace","x":15,"y":0.5246},{"s":"replace","x":20,"y":0.5246},
{"s":"swap","x":2.5,"y":0.5212},{"s":"swap","x":5,"y":0.5233},{"s":"swap","x":7.5,"y":0.5238},{"s":"swap","x":10,"y":0.5363},{"s":"swap","x":15,"y":0.5238},{"s":"swap","x":20,"y":0.5131},
{"s":"bcni","x":2.5,"y":0.5264},{"s":"bcni","x":5,"y":0.5131},{"s":"bcni","x":7.5,"y":0.5275},{"s":"bcni","x":10,"y":0.5248},{"s":"bcni","x":15,"y":0.5311},{"s":"bcni","x":20,"y":0.5403},
{"s":"gaussian","x":2.5,"y":0.5275},{"s":"gaussian","x":5,"y":0.521},{"s":"gaussian","x":7.5,"y":0.5271},{"s":"gaussian","x":10,"y":0.5246},{"s":"gaussian","x":15,"y":0.5246},{"s":"gaussian","x":20,"y":0.5283},
{"s":"hscan","x":2.5,"y":0.5142},{"s":"hscan","x":5,"y":0.5306},{"s":"hscan","x":7.5,"y":0.5337},{"s":"hscan","x":10,"y":0.5252},{"s":"hscan","x":15,"y":0.5184},{"s":"hscan","x":20,"y":0.534},
{"s":"sacn","x":2.5,"y":0.5167},{"s":"sacn","x":5,"y":0.5165},{"s":"sacn","x":7.5,"y":0.516},{"s":"sacn","x":10,"y":0.5149},{"s":"sacn","x":15,"y":0.5131},{"s":"sacn","x":20,"y":0.5199},
{"s":"tani","x":2.5,"y":0.5293},{"s":"tani","x":5,"y":0.5306},{"s":"tani","x":7.5,"y":0.5236},{"s":"tani","x":10,"y":0.5306},{"s":"tani","x":15,"y":0.5372},{"s":"tani","x":20,"y":0.5243},
{"s":"uniform","x":2.5,"y":0.5316},{"s":"uniform","x":5,"y":0.5267},{"s":"uniform","x":7.5,"y":0.5386},{"s":"uniform","x":10,"y":0.5332},{"s":"uniform","x":15,"y":0.5267},{"s":"uniform","x":20,"y":0.536},
{"s":"uncorrupted","x":0,"y":0.5259}],
"p13": [
{"s":"add","x":2.5,"y":558},{"s":"add","x":5,"y":586},{"s":"add","x":7.5,"y":525},{"s":"add","x":10,"y":567},{"s":"add","x":15,"y":656},{"s":"add","x":20,"y":623},
{"s":"perturb","x":2.5,"y":581},{"s":"perturb","x":5,"y":581},{"s":"perturb","x":7.5,"y":665},{"s":"perturb","x":10,"y":544},{"s":"perturb","x":15,"y":619},{"s":"perturb","x":20,"y":488},
{"s":"remove","x":2.5,"y":633},{"s":"remove","x":5,"y":586},{"s":"remove","x":7.5,"y":586},{"s":"remove","x":10,"y":535},{"s":"remove","x":15,"y":549},{"s":"remove","x":20,"y":605},
{"s":"replace","x":2.5,"y":464},{"s":"replace","x":5,"y":546},{"s":"replace","x":7.5,"y":595},{"s":"replace","x":10,"y":563},{"s":"replace","x":15,"y":623},{"s":"replace","x":20,"y":628},
{"s":"swap","x":2.5,"y":633},{"s":"swap","x":5,"y":605},{"s":"swap","x":7.5,"y":614},{"s":"swap","x":10,"y":748},{"s":"swap","x":15,"y":623},{"s":"swap","x":20,"y":544},
{"s":"bcni","x":2.5,"y":507},{"s":"bcni","x":5,"y":507},{"s":"bcni","x":7.5,"y":563},{"s":"bcni","x":10,"y":525},{"s":"bcni","x":15,"y":619},{"s":"bcni","x":20,"y":544},
{"s":"gaussian","x":2.5,"y":672},{"s":"gaussian","x":5,"y":656},{"s":"gaussian","x":7.5,"y":642},{"s":"gaussian","x":10,"y":619},{"s":"gaussian","x":15,"y":672},{"s":"gaussian","x":20,"y":675},
{"s":"hscan","x":2.5,"y":647},{"s":"hscan","x":5,"y":670},{"s":"hscan","x":7.5,"y":707},{"s":"hscan","x":10,"y":586},{"s":"hscan","x":15,"y":600},{"s":"hscan","x":20,"y":565},
{"s":"sacn","x":2.5,"y":441},{"s":"sacn","x":5,"y":480},{"s":"sacn","x":7.5,"y":505},{"s":"sacn","x":10,"y":455},{"s":"sacn","x":15,"y":448},{"s":"sacn","x":20,"y":525},
{"s":"tani","x":2.5,"y":577},{"s":"tani","x":5,"y":633},{"s":"tani","x":7.5,"y":553},{"s":"tani","x":10,"y":539},{"s":"tani","x":15,"y":633},{"s":"tani","x":20,"y":544},
{"s":"uniform","x":2.5,"y":651},{"s":"uniform","x":5,"y":600},{"s":"uniform","x":7.5,"y":740},{"s":"uniform","x":10,"y":609},{"s":"uniform","x":15,"y":642},{"s":"uniform","x":20,"y":642},
{"s":"uncorrupted","x":0,"y":502}],
"p14": [
{"s":"add","x":2.5,"y":0.0709},{"s":"add","x":5,"y":0.0709},{"s":"add","x":7.5,"y":0.0589},{"s":"add","x":10,"y":0.0589},{"s":"add","x":15,"y":0.0561},{"s":"add","x":20,"y":0.0546},
{"s":"perturb","x":2.5,"y":0.0703},{"s":"perturb","x":5,"y":0.0578},{"s":"perturb","x":7.5,"y":0.0697},{"s":"perturb","x":10,"y":0.0606},{"s":"perturb","x":15,"y":0.0512},{"s":"perturb","x":20,"y":0.0657},
{"s":"remove","x":2.5,"y":0.0464},{"s":"remove","x":5,"y":0.0618},{"s":"remove","x":7.5,"y":0.0652},{"s":"remove","x":10,"y":0.0618},{"s":"remove","x":15,"y":0.0646},{"s":"remove","x":20,"y":0.0629},
{"s":"replace","x":2.5,"y":0.061},{"s":"replace","x":5,"y":0.064},{"s":"replace","x":7.5,"y":0.0555},{"s":"replace","x":10,"y":0.0669},{"s":"replace","x":15,"y":0.0612},{"s":"replace","x":20,"y":0.0663},
{"s":"swap","x":2.5,"y":0.0572},{"s":"swap","x":5,"y":0.0618},{"s":"swap","x":7.5,"y":0.0618},{"s":"swap","x":10,"y":0.0532},{"s":"swap","x":15,"y":0.068},{"s":"swap","x":20,"y":0.0692},
{"s":"bcni","x":2.5,"y":0.0709},{"s":"bcni","x":5,"y":0.0686},{"s":"bcni","x":7.5,"y":0.0526},{"s":"bcni","x":10,"y":0.0635},{"s":"bcni","x":15,"y":0.0549},{"s":"bcni","x":20,"y":0.0441},
{"s":"gaussian","x":2.5,"y":0.0724},{"s":"gaussian","x":5,"y":0.0621},{"s":"gaussian","x":7.5,"y":0.0657},{"s":"gaussian","x":10,"y":0.064},{"s":"gaussian","x":15,"y":0.0646},{"s":"gaussian","x":20,"y":0.0629},
{"s":"hscan","x":2.5,"y":0.0697},{"s":"hscan","x":5,"y":0.0549},{"s":"hscan","x":7.5,"y":0.0595},{"s":"hscan","x":10,"y":0.0589},{"s":"hscan","x":15,"y":0.05},{"s":"hscan","x":20,"y":0.0614},
{"s":"sacn","x":2.5,"y":0.0686},{"s":"sacn","x":5,"y":0.0706},{"s":"sacn","x":7.5,"y":0.0675},{"s":"sacn","x":10,"y":0.0655},{"s":"sacn","x":15,"y":0.0692},{"s":"sacn","x":20,"y":0.0717},
{"s":"tani","x":2.5,"y":0.0811},{"s":"tani","x":5,"y":0.0743},{"s":"tani","x":7.5,"y":0.0618},{"s":"tani","x":10,"y":0.064},{"s":"tani","x":15,"y":0.0737},{"s":"tani","x":20,"y":0.0646},
{"s":"uniform","x":2.5,"y":0.0749},{"s":"uniform","x":5,"y":0.0675},{"s":"uniform","x":7.5,"y":0.0749},{"s":"uniform","x":10,"y":0.074},{"s":"uniform","x":15,"y":0.0692},{"s":"uniform","x":20,"y":0.0774},
{"s":"uncorrupted","x":0,"y":0.064}],
"p15": [
{"s":"add","x":2.5,"y":9.63},{"s":"add","x":5,"y":9.25},{"s":"add","x":7.5,"y":9.26},{"s":"add","x":10,"y":9.22},{"s":"add","x":15,"y":9.22},{"s":"add","x":20,"y":9.05},
{"s":"perturb","x":2.5,"y":9.36},{"s":"perturb","x":5,"y":9.07},{"s":"perturb","x":7.5,"y":9.31},{"s":"perturb","x":10,"y":9.35},{"s":"perturb","x":15,"y":9.2},{"s":"perturb","x":20,"y":9.56},
{"s":"remove","x":2.5,"y":8.88},{"s":"remove","x":5,"y":9.33},{"s":"remove","x":7.5,"y":9.21},{"s":"remove","x":10,"y":9.09},{"s":"remove","x":15,"y":9.26},{"s":"remove","x":20,"y":9.14},
{"s":"replace","x":2.5,"y":9.35},{"s":"replace","x":5,"y":9.29},{"s":"replace","x":7.5,"y":9.29},{"s":"replace","x":10,"y":9.41},{"s":"replace","x":15,"y":9.2},{"s":"replace","x":20,"y":9.26},
{"s":"swap","x":2.5,"y":9.09},{"s":"swap","x":5,"y":9.32},{"s":"swap","x":7.5,"y":9.1},{"s":"swap","x":10,"y":9.29},{"s":"swap","x":15,"y":9.28},{"s":"swap","x":20,"y":9.62},
{"s":"bcni","x":2.5,"y":9.48},{"s":"bcni","x":5,"y":9.41},{"s":"bcni","x":7.5,"y":9.44},{"s":"bcni","x":10,"y":9.61},{"s":"bcni","x":15,"y":9.58},{"s":"bcni","x":20,"y":9.28},
{"s":"gaussian","x":2.5,"y":9.5},{"s":"gaussian","x":5,"y":9.37},{"s":"gaussian","x":7.5,"y":9.46},{"s":"gaussian","x":10,"y":9.43},{"s":"gaussian","x":15,"y":9.4},{"s":"gaussian","x":20,"y":9.44},
{"s":"hscan","x":2.5,"y":9.32},{"s":"hscan","x":5,"y":9.17},{"s":"hscan","x":7.5,"y":9.25},{"s":"hscan","x":10,"y":9.39},{"s":"hscan","x":15,"y":8.94},{"s":"hscan","x":20,"y":9.43},
{"s":"sacn","x":2.5,"y":9.46},{"s":"sacn","x":5,"y":9.44},{"s":"sacn","x":7.5,"y":9.37},{"s":"sacn","x":10,"y":9.34},{"s":"sacn","x":15,"y":9.55},{"s":"sacn","x":20,"y":9.48},
{"s":"tani","x":2.5,"y":9.73},{"s":"tani","x":5,"y":9.5},{"s":"tani","x":7.5,"y":9.21},{"s":"tani","x":10,"y":9.35},{"s":"tani","x":15,"y":9.47},{"s":"tani","x":20,"y":9.21},
{"s":"uniform","x":2.5,"y":9.59},{"s":"uniform","x":5,"y":9.37},{"s":"uniform","x":7.5,"y":9.65},{"s":"uniform","x":10,"y":9.56},{"s":"uniform","x":15,"y":9.48},{"s":"uniform","x":20,"y":9.67},
{"s":"uncorrupted","x":0,"y":9.43}],
"p16": [
{"s":"add","x":2.5,"y":0.5533},{"s":"add","x":5,"y":0.5619},{"s":"add","x":7.5,"y":0.5362},{"s":"add","x":10,"y":0.5565},{"s":"add","x":15,"y":0.5597},{"s":"add","x":20,"y":0.5422},
{"s":"perturb","x":2.5,"y":0.5512},{"s":"perturb","x":5,"y":0.5405},{"s":"perturb","x":7.5,"y":0.5679},{"s":"perturb","x":10,"y":0.5358},{"s":"perturb","x":15,"y":0.5666},{"s":"perturb","x":20,"y":0.5512},
{"s":"remove","x":2.5,"y":0.5501},{"s":"remove","x":5,"y":0.549},{"s":"remove","x":7.5,"y":0.5597},{"s":"remove","x":10,"y":0.5458},{"s":"remove","x":15,"y":0.5559},{"s":"remove","x":20,"y":0.5565},
{"s":"replace","x":2.5,"y":0.5437},{"s":"replace","x":5,"y":0.5501},{"s":"replace","x":7.5,"y":0.5544},{"s":"replace","x":10,"y":0.5662},{"s":"replace","x":15,"y":0.5597},{"s":"replace","x":20,"y":0.5619},
{"s":"swap","x":2.5,"y":0.5533},{"s":"swap","x":5,"y":0.5597},{"s":"swap","x":7.5,"y":0.5597},{"s":"swap","x":10,"y":0.5651},{"s":"swap","x":15,"y":0.5576},{"s":"swap","x":20,"y":0.5501},
{"s":"bcni","x":2.5,"y":0.5597},{"s":"bcni","x":5,"y":0.5522},{"s":"bcni","x":7.5,"y":0.5565},{"s":"bcni","x":10,"y":0.548},{"s":"bcni","x":15,"y":0.5737},{"s":"bcni","x":20,"y":0.6043},
{"s":"gaussian","x":2.5,"y":0.57},{"s":"gaussian","x":5,"y":0.5555},{"s":"gaussian","x":7.5,"y":0.5597},{"s":"gaussian","x":10,"y":0.5615},{"s":"gaussian","x":15,"y":0.5615},{"s":"gaussian","x":20,"y":0.5619},
{"s":"hscan","x":2.5,"y":0.5501},{"s":"hscan","x":5,"y":0.5801},{"s":"hscan","x":7.5,"y":0.594},{"s":"hscan","x":10,"y":0.5593},{"s":"hscan","x":15,"y":0.5426},{"s":"hscan","x":20,"y":0.5769},
{"s":"sacn","x":2.5,"y":0.555},{"s":"sacn","x":5,"y":0.5576},{"s":"sacn","x":7.5,"y":0.5544},{"s":"sacn","x":10,"y":0.5501},{"s":"sacn","x":15,"y":0.5501},{"s":"sacn","x":20,"y":0.5662},
{"s":"tani","x":2.5,"y":0.5794},{"s":"tani","x":5,"y":0.5786},{"s":"tani","x":7.5,"y":0.5587},{"s":"tani","x":10,"y":0.5512},{"s":"tani","x":15,"y":0.585},{"s":"tani","x":20,"y":0.5576},
{"s":"uniform","x":2.5,"y":0.5636},{"s":"uniform","x":5,"y":0.5587},{"s":"uniform","x":7.5,"y":0.578},{"s":"uniform","x":10,"y":0.5726},{"s":"uniform","x":15,"y":0.5636},{"s":"uniform","x":20,"y":0.5801},
{"s":"uncorrupted","x":0,"y":0.5512}]
},
"vconcat": [
{"data": {"name": "p1"}, "width": 1000, "height": 60, "view": {"stroke": null},
 "layer": [
  {"transform": [{"filter": "false"}], "mark": {"type": "point", "filled": true, "opacity": 1}, "encoding": {
    "color": {"field": "s", "type": "nominal", "scale": {"domain": ["add","perturb","remove","replace","swap"], "range": ["#E69F00","#8B4513","#4B0082","#D55E00","#8B0000"]}, "legend": {"title": "TEXT :", "orient": "none", "legendX": 267, "legendY": 0, "direction": "horizontal", "titleOrient": "left", "titleBaseline": "line-top", "titleLineHeight": 8, "titlePadding": 8, "symbolSize": 676, "symbolStrokeWidth": 0, "labelOffset": 4, "columnPadding": 8, "padding": 0}},
    "shape": {"field": "s", "type": "nominal", "scale": {"domain": ["add","perturb","remove","replace","swap"], "range": [
      "M-1,-0.07L1,-0.07L1,0.07L-1,0.07ZM0,-0.4L0.4,0.3L-0.4,0.3Z",
      "M-1,-0.07L1,-0.07L1,0.07L-1,0.07ZM0,0.4L-0.4,-0.3L0.4,-0.3Z",
      "M-1,-0.07L1,-0.07L1,0.07L-1,0.07ZM0.4,0L-0.3,0.4L-0.3,-0.4Z",
      "M-1,-0.07L1,-0.07L1,0.07L-1,0.07ZM0,-0.42L0.42,0L0,0.42L-0.42,0Z",
      "M-1,-0.07L1,-0.07L1,0.07L-1,0.07ZM-0.4,0L0.3,-0.4L0.3,0.4Z"]}, "legend": {"title": "TEXT :", "orient": "none", "legendX": 267, "legendY": 0, "direction": "horizontal", "titleOrient": "left", "titleBaseline": "line-top", "titleLineHeight": 8, "titlePadding": 8, "symbolSize": 676, "symbolStrokeWidth": 0, "labelOffset": 4, "columnPadding": 8, "padding": 0}}}},
  {"transform": [{"filter": "false"}], "mark": {"type": "point", "filled": true, "opacity": 1}, "encoding": {
    "color": {"field": "s", "type": "nominal", "scale": {"domain": ["bcni","gaussian","hscan","sacn","tani","uniform"], "range": ["#0072B2","#6A5ACD","#CC79A7","#2CA02C","#2F4F4F","#20B2AA"]}, "legend": {"title": "EMBEDDING :", "orient": "none", "legendX": 210, "legendY": 23, "direction": "horizontal", "titleOrient": "left", "titleBaseline": "line-top", "titleLineHeight": 8, "titlePadding": 8, "symbolSize": 676, "symbolStrokeWidth": 0, "labelOffset": 4, "columnPadding": 8, "padding": 0}},
    "shape": {"field": "s", "type": "nominal", "scale": {"domain": ["bcni","gaussian","hscan","sacn","tani","uniform"], "range": [
      "M-1,-0.07L1,-0.07L1,0.07L-1,0.07ZM-0.34,0A0.34,0.34,0,1,1,0.34,0A0.34,0.34,0,1,1,-0.34,0Z",
      "M-1,-0.07L1,-0.07L1,0.07L-1,0.07ZM0,-0.38L0.33,-0.19L0.33,0.19L0,0.38L-0.33,0.19L-0.33,-0.19Z",
      "M-1,-0.07L1,-0.07L1,0.07L-1,0.07ZM-0.34,0A0.34,0.34,0,1,1,0.34,0A0.34,0.34,0,1,1,-0.34,0Z",
      "M-1,-0.07L1,-0.07L1,0.07L-1,0.07ZM-0.3,-0.3L0.3,-0.3L0.3,0.3L-0.3,0.3Z",
      "M-1,-0.07L1,-0.07L1,0.07L-1,0.07ZM0,-0.44L0.26,0L0,0.44L-0.26,0Z",
      "M-1,-0.07L1,-0.07L1,0.07L-1,0.07ZM-0.34,0A0.34,0.34,0,1,1,0.34,0A0.34,0.34,0,1,1,-0.34,0Z"]}, "legend": {"title": "EMBEDDING :", "orient": "none", "legendX": 210, "legendY": 23, "direction": "horizontal", "titleOrient": "left", "titleBaseline": "line-top", "titleLineHeight": 8, "titlePadding": 8, "symbolSize": 676, "symbolStrokeWidth": 0, "labelOffset": 4, "columnPadding": 8, "padding": 0}}}},
  {"transform": [{"filter": "false"}], "mark": {"type": "point", "filled": true, "opacity": 1}, "encoding": {
    "color": {"field": "s", "type": "nominal", "scale": {"domain": ["uncorrupted"], "range": ["black"]}, "legend": {"title": "BASE CASE :", "orient": "none", "legendX": 389, "legendY": 48, "direction": "horizontal", "titleOrient": "left", "titleBaseline": "line-top", "titleLineHeight": 8, "titlePadding": 8, "symbolType": "M-0.42,0A0.42,0.42,0,1,1,0.42,0A0.42,0.42,0,1,1,-0.42,0Z", "symbolSize": 676, "symbolStrokeWidth": 0, "labelOffset": 4, "padding": 0}}}}
 ],
 "resolve": {"scale": {"color": "independent", "shape": "independent"}}
},
{"columns": 4, "spacing": {"row": 40, "column": 80}, "bounds": "flush",
 "concat": [
{"title": {"text": "WebVid-2M: FVD", "anchor": "middle"}, "data": {"name": "p1"}, "width": 190, "height": 120,
 "encoding": {
  "x": {"field": "x", "type": "quantitative", "scale": {"nice": false, "zero": false, "padding": 8.64}, "axis": {"title": null, "labels": false, "values": [0,1,2,3,4,5,6,7,8,9,10,11,12,13,14,15,16,17,18,19,20], "gridColor": {"condition": {"test": "datum.value % 5 === 0", "value": "#c6c6c6"}, "value": "#e3e3e3"}, "gridDash": {"condition": {"test": "datum.value % 5 === 0", "value": [4,2]}, "value": [2,2]}, "gridWidth": {"condition": {"test": "datum.value % 5 === 0", "value": 1.1}, "value": 0.8}}},
  "y": {"field": "y", "type": "quantitative", "scale": {"nice": false, "zero": false, "padding": 5.45}, "axis": {"title": "FVD ( ↓ )", "format": "d", "values": [340,350,360,370,380,390,400,410,420,430,440,450,460,470,480,490,500,510,520,530,540,550,560,570,580,590], "labelExpr": "datum.value % 50 === 0 ? datum.label : ''", "gridColor": {"condition": {"test": "datum.value % 50 === 0", "value": "#c6c6c6"}, "value": "#e3e3e3"}, "gridDash": {"condition": {"test": "datum.value % 50 === 0", "value": [4,2]}, "value": [2,2]}, "gridWidth": {"condition": {"test": "datum.value % 50 === 0", "value": 1.1}, "value": 0.8}}}
 },
 "layer": [
  {"transform": [{"filter": {"field": "s", "oneOf": ["add","perturb","remove","replace","swap"]}}], "mark": {"type": "line", "strokeWidth": 2}, "encoding": {"color": {"field": "s", "type": "nominal", "scale": {"domain": ["add","perturb","remove","replace","swap"], "range": ["#E69F00","#8B4513","#4B0082","#D55E00","#8B0000"]}, "legend": null}}},
  {"transform": [{"filter": {"field": "s", "oneOf": ["add","perturb","remove","replace","swap"]}}], "mark": {"type": "point", "filled": true, "size": 75, "opacity": 1, "stroke": "white", "strokeWidth": 0.6}, "encoding": {"color": {"field": "s", "type": "nominal", "scale": {"domain": ["add","perturb","remove","replace","swap"], "range": ["#E69F00","#8B4513","#4B0082","#D55E00","#8B0000"]}, "legend": null}, "shape": {"field": "s", "type": "nominal", "scale": {"domain": ["add","perturb","remove","replace","swap"], "range": ["triangle-up","triangle-down","triangle-right","diamond","triangle-left"]}, "legend": null}}},
  {"transform": [{"filter": {"field": "s", "oneOf": ["bcni","gaussian","hscan","sacn","tani","uniform"]}}], "mark": {"type": "line", "strokeWidth": 2}, "encoding": {"color": {"field": "s", "type": "nominal", "scale": {"domain": ["bcni","gaussian","hscan","sacn","tani","uniform"], "range": ["#0072B2","#6A5ACD","#CC79A7","#2CA02C","#2F4F4F","#20B2AA"]}, "legend": null}}},
  {"transform": [{"filter": {"field": "s", "oneOf": ["bcni","gaussian","hscan","sacn","tani","uniform"]}}], "mark": {"type": "point", "filled": true, "size": 75, "opacity": 1, "stroke": "white", "strokeWidth": 0.6}, "encoding": {"color": {"field": "s", "type": "nominal", "scale": {"domain": ["bcni","gaussian","hscan","sacn","tani","uniform"], "range": ["#0072B2","#6A5ACD","#CC79A7","#2CA02C","#2F4F4F","#20B2AA"]}, "legend": null}, "shape": {"field": "s", "type": "nominal", "scale": {"domain": ["bcni","gaussian","hscan","sacn","tani","uniform"], "range": ["circle","M0,-1L0.866,-0.5L0.866,0.5L0,1L-0.866,0.5L-0.866,-0.5Z","circle","square","M0,-1.15L0.62,0L0,1.15L-0.62,0Z","circle"]}, "legend": null}}},
  {"transform": [{"filter": {"field": "s", "equal": "uncorrupted"}}], "mark": {"type": "point", "filled": true, "size": 120, "opacity": 1, "color": "black"}}
 ],
 "resolve": {"scale": {"color": "independent", "shape": "independent"}}
},
{"title": {"text": "WebVid-2M: SSIM", "anchor": "middle"}, "data": {"name": "p2"}, "width": 190, "height": 120,
 "encoding": {
  "x": {"field": "x", "type": "quantitative", "scale": {"nice": false, "zero": false, "padding": 8.64}, "axis": {"title": null, "labels": false, "values": [0,1,2,3,4,5,6,7,8,9,10,11,12,13,14,15,16,17,18,19,20], "gridColor": {"condition": {"test": "datum.value % 5 === 0", "value": "#c6c6c6"}, "value": "#e3e3e3"}, "gridDash": {"condition": {"test": "datum.value % 5 === 0", "value": [4,2]}, "value": [2,2]}, "gridWidth": {"condition": {"test": "datum.value % 5 === 0", "value": 1.1}, "value": 0.8}}},
  "y": {"field": "y", "type": "quantitative", "scale": {"nice": false, "zero": false, "padding": 5.45}, "axis": {"title": "SSIM ( ↑ )", "format": ".3f", "values": [0.053,0.054,0.055,0.056,0.057,0.058,0.059,0.06,0.061,0.062,0.063,0.064,0.065,0.066,0.067,0.068,0.069,0.07,0.071,0.072,0.073,0.074,0.075,0.076], "labelExpr": "abs(datum.value*200 - round(datum.value*200)) < 0.01 ? datum.label : ''", "gridColor": {"condition": {"test": "abs(datum.value*200 - round(datum.value*200)) < 0.01", "value": "#c6c6c6"}, "value": "#e3e3e3"}, "gridDash": {"condition": {"test": "abs(datum.value*200 - round(datum.value*200)) < 0.01", "value": [4,2]}, "value": [2,2]}, "gridWidth": {"condition": {"test": "abs(datum.value*200 - round(datum.value*200)) < 0.01", "value": 1.1}, "value": 0.8}}}
 },
 "layer": [
  {"transform": [{"filter": {"field": "s", "oneOf": ["add","perturb","remove","replace","swap"]}}], "mark": {"type": "line", "strokeWidth": 2}, "encoding": {"color": {"field": "s", "type": "nominal", "scale": {"domain": ["add","perturb","remove","replace","swap"], "range": ["#E69F00","#8B4513","#4B0082","#D55E00","#8B0000"]}, "legend": null}}},
  {"transform": [{"filter": {"field": "s", "oneOf": ["add","perturb","remove","replace","swap"]}}], "mark": {"type": "point", "filled": true, "size": 75, "opacity": 1, "stroke": "white", "strokeWidth": 0.6}, "encoding": {"color": {"field": "s", "type": "nominal", "scale": {"domain": ["add","perturb","remove","replace","swap"], "range": ["#E69F00","#8B4513","#4B0082","#D55E00","#8B0000"]}, "legend": null}, "shape": {"field": "s", "type": "nominal", "scale": {"domain": ["add","perturb","remove","replace","swap"], "range": ["triangle-up","triangle-down","triangle-right","diamond","triangle-left"]}, "legend": null}}},
  {"transform": [{"filter": {"field": "s", "oneOf": ["bcni","gaussian","hscan","sacn","tani","uniform"]}}], "mark": {"type": "line", "strokeWidth": 2}, "encoding": {"color": {"field": "s", "type": "nominal", "scale": {"domain": ["bcni","gaussian","hscan","sacn","tani","uniform"], "range": ["#0072B2","#6A5ACD","#CC79A7","#2CA02C","#2F4F4F","#20B2AA"]}, "legend": null}}},
  {"transform": [{"filter": {"field": "s", "oneOf": ["bcni","gaussian","hscan","sacn","tani","uniform"]}}], "mark": {"type": "point", "filled": true, "size": 75, "opacity": 1, "stroke": "white", "strokeWidth": 0.6}, "encoding": {"color": {"field": "s", "type": "nominal", "scale": {"domain": ["bcni","gaussian","hscan","sacn","tani","uniform"], "range": ["#0072B2","#6A5ACD","#CC79A7","#2CA02C","#2F4F4F","#20B2AA"]}, "legend": null}, "shape": {"field": "s", "type": "nominal", "scale": {"domain": ["bcni","gaussian","hscan","sacn","tani","uniform"], "range": ["circle","M0,-1L0.866,-0.5L0.866,0.5L0,1L-0.866,0.5L-0.866,-0.5Z","circle","square","M0,-1.15L0.62,0L0,1.15L-0.62,0Z","circle"]}, "legend": null}}},
  {"transform": [{"filter": {"field": "s", "equal": "uncorrupted"}}], "mark": {"type": "point", "filled": true, "size": 120, "opacity": 1, "color": "black"}}
 ],
 "resolve": {"scale": {"color": "independent", "shape": "independent"}}
},
{"title": {"text": "WebVid-2M: PSNR", "anchor": "middle"}, "data": {"name": "p3"}, "width": 190, "height": 120,
 "encoding": {
  "x": {"field": "x", "type": "quantitative", "scale": {"nice": false, "zero": false, "padding": 8.64}, "axis": {"title": null, "labels": false, "values": [0,1,2,3,4,5,6,7,8,9,10,11,12,13,14,15,16,17,18,19,20], "gridColor": {"condition": {"test": "datum.value % 5 === 0", "value": "#c6c6c6"}, "value": "#e3e3e3"}, "gridDash": {"condition": {"test": "datum.value % 5 === 0", "value": [4,2]}, "value": [2,2]}, "gridWidth": {"condition": {"test": "datum.value % 5 === 0", "value": 1.1}, "value": 0.8}}},
  "y": {"field": "y", "type": "quantitative", "scale": {"nice": false, "zero": false, "padding": 5.45}, "axis": {"title": "PSNR ( ↑ )", "format": ".1f", "values": [9.12,9.16,9.2,9.24,9.28,9.32,9.36,9.4,9.44,9.48,9.52,9.56,9.6,9.64,9.68,9.72], "labelExpr": "abs(datum.value*5 - round(datum.value*5)) < 0.01 ? datum.label : ''", "gridColor": {"condition": {"test": "abs(datum.value*5 - round(datum.value*5)) < 0.01", "value": "#c6c6c6"}, "value": "#e3e3e3"}, "gridDash": {"condition": {"test": "abs(datum.value*5 - round(datum.value*5)) < 0.01", "value": [4,2]}, "value": [2,2]}, "gridWidth": {"condition": {"test": "abs(datum.value*5 - round(datum.value*5)) < 0.01", "value": 1.1}, "value": 0.8}}}
 },
 "layer": [
  {"transform": [{"filter": {"field": "s", "oneOf": ["add","perturb","remove","replace","swap"]}}], "mark": {"type": "line", "strokeWidth": 2}, "encoding": {"color": {"field": "s", "type": "nominal", "scale": {"domain": ["add","perturb","remove","replace","swap"], "range": ["#E69F00","#8B4513","#4B0082","#D55E00","#8B0000"]}, "legend": null}}},
  {"transform": [{"filter": {"field": "s", "oneOf": ["add","perturb","remove","replace","swap"]}}], "mark": {"type": "point", "filled": true, "size": 75, "opacity": 1, "stroke": "white", "strokeWidth": 0.6}, "encoding": {"color": {"field": "s", "type": "nominal", "scale": {"domain": ["add","perturb","remove","replace","swap"], "range": ["#E69F00","#8B4513","#4B0082","#D55E00","#8B0000"]}, "legend": null}, "shape": {"field": "s", "type": "nominal", "scale": {"domain": ["add","perturb","remove","replace","swap"], "range": ["triangle-up","triangle-down","triangle-right","diamond","triangle-left"]}, "legend": null}}},
  {"transform": [{"filter": {"field": "s", "oneOf": ["bcni","gaussian","hscan","sacn","tani","uniform"]}}], "mark": {"type": "line", "strokeWidth": 2}, "encoding": {"color": {"field": "s", "type": "nominal", "scale": {"domain": ["bcni","gaussian","hscan","sacn","tani","uniform"], "range": ["#0072B2","#6A5ACD","#CC79A7","#2CA02C","#2F4F4F","#20B2AA"]}, "legend": null}}},
  {"transform": [{"filter": {"field": "s", "oneOf": ["bcni","gaussian","hscan","sacn","tani","uniform"]}}], "mark": {"type": "point", "filled": true, "size": 75, "opacity": 1, "stroke": "white", "strokeWidth": 0.6}, "encoding": {"color": {"field": "s", "type": "nominal", "scale": {"domain": ["bcni","gaussian","hscan","sacn","tani","uniform"], "range": ["#0072B2","#6A5ACD","#CC79A7","#2CA02C","#2F4F4F","#20B2AA"]}, "legend": null}, "shape": {"field": "s", "type": "nominal", "scale": {"domain": ["bcni","gaussian","hscan","sacn","tani","uniform"], "range": ["circle","M0,-1L0.866,-0.5L0.866,0.5L0,1L-0.866,0.5L-0.866,-0.5Z","circle","square","M0,-1.15L0.62,0L0,1.15L-0.62,0Z","circle"]}, "legend": null}}},
  {"transform": [{"filter": {"field": "s", "equal": "uncorrupted"}}], "mark": {"type": "point", "filled": true, "size": 120, "opacity": 1, "color": "black"}}
 ],
 "resolve": {"scale": {"color": "independent", "shape": "independent"}}
},
{"title": {"text": "WebVid-2M: LPIPS", "anchor": "middle"}, "data": {"name": "p4"}, "width": 190, "height": 120,
 "encoding": {
  "x": {"field": "x", "type": "quantitative", "scale": {"nice": false, "zero": false, "padding": 8.64}, "axis": {"title": null, "labels": false, "values": [0,1,2,3,4,5,6,7,8,9,10,11,12,13,14,15,16,17,18,19,20], "gridColor": {"condition": {"test": "datum.value % 5 === 0", "value": "#c6c6c6"}, "value": "#e3e3e3"}, "gridDash": {"condition": {"test": "datum.value % 5 === 0", "value": [4,2]}, "value": [2,2]}, "gridWidth": {"condition": {"test": "datum.value % 5 === 0", "value": 1.1}, "value": 0.8}}},
  "y": {"field": "y", "type": "quantitative", "scale": {"nice": false, "zero": false, "padding": 5.45}, "axis": {"title": "LPIPS ( ↓ )", "format": ".2f", "values": [0.544,0.546,0.548,0.55,0.552,0.554,0.556,0.558,0.56,0.562,0.564,0.566,0.568,0.57,0.572,0.574,0.576,0.578,0.58,0.582,0.584], "labelExpr": "abs(datum.value*100 - round(datum.value*100)) < 0.01 ? datum.label : ''", "gridColor": {"condition": {"test": "abs(datum.value*100 - round(datum.value*100)) < 0.01", "value": "#c6c6c6"}, "value": "#e3e3e3"}, "gridDash": {"condition": {"test": "abs(datum.value*100 - round(datum.value*100)) < 0.01", "value": [4,2]}, "value": [2,2]}, "gridWidth": {"condition": {"test": "abs(datum.value*100 - round(datum.value*100)) < 0.01", "value": 1.1}, "value": 0.8}}}
 },
 "layer": [
  {"transform": [{"filter": {"field": "s", "oneOf": ["add","perturb","remove","replace","swap"]}}], "mark": {"type": "line", "strokeWidth": 2}, "encoding": {"color": {"field": "s", "type": "nominal", "scale": {"domain": ["add","perturb","remove","replace","swap"], "range": ["#E69F00","#8B4513","#4B0082","#D55E00","#8B0000"]}, "legend": null}}},
  {"transform": [{"filter": {"field": "s", "oneOf": ["add","perturb","remove","replace","swap"]}}], "mark": {"type": "point", "filled": true, "size": 75, "opacity": 1, "stroke": "white", "strokeWidth": 0.6}, "encoding": {"color": {"field": "s", "type": "nominal", "scale": {"domain": ["add","perturb","remove","replace","swap"], "range": ["#E69F00","#8B4513","#4B0082","#D55E00","#8B0000"]}, "legend": null}, "shape": {"field": "s", "type": "nominal", "scale": {"domain": ["add","perturb","remove","replace","swap"], "range": ["triangle-up","triangle-down","triangle-right","diamond","triangle-left"]}, "legend": null}}},
  {"transform": [{"filter": {"field": "s", "oneOf": ["bcni","gaussian","hscan","sacn","tani","uniform"]}}], "mark": {"type": "line", "strokeWidth": 2}, "encoding": {"color": {"field": "s", "type": "nominal", "scale": {"domain": ["bcni","gaussian","hscan","sacn","tani","uniform"], "range": ["#0072B2","#6A5ACD","#CC79A7","#2CA02C","#2F4F4F","#20B2AA"]}, "legend": null}}},
  {"transform": [{"filter": {"field": "s", "oneOf": ["bcni","gaussian","hscan","sacn","tani","uniform"]}}], "mark": {"type": "point", "filled": true, "size": 75, "opacity": 1, "stroke": "white", "strokeWidth": 0.6}, "encoding": {"color": {"field": "s", "type": "nominal", "scale": {"domain": ["bcni","gaussian","hscan","sacn","tani","uniform"], "range": ["#0072B2","#6A5ACD","#CC79A7","#2CA02C","#2F4F4F","#20B2AA"]}, "legend": null}, "shape": {"field": "s", "type": "nominal", "scale": {"domain": ["bcni","gaussian","hscan","sacn","tani","uniform"], "range": ["circle","M0,-1L0.866,-0.5L0.866,0.5L0,1L-0.866,0.5L-0.866,-0.5Z","circle","square","M0,-1.15L0.62,0L0,1.15L-0.62,0Z","circle"]}, "legend": null}}},
  {"transform": [{"filter": {"field": "s", "equal": "uncorrupted"}}], "mark": {"type": "point", "filled": true, "size": 120, "opacity": 1, "color": "black"}}
 ],
 "resolve": {"scale": {"color": "independent", "shape": "independent"}}
},
{"title": {"text": "MSRVTT: FVD", "anchor": "middle"}, "data": {"name": "p5"}, "width": 190, "height": 120,
 "encoding": {
  "x": {"field": "x", "type": "quantitative", "scale": {"nice": false, "zero": false, "padding": 8.64}, "axis": {"title": null, "labels": false, "values": [0,1,2,3,4,5,6,7,8,9,10,11,12,13,14,15,16,17,18,19,20], "gridColor": {"condition": {"test": "datum.value % 5 === 0", "value": "#c6c6c6"}, "value": "#e3e3e3"}, "gridDash": {"condition": {"test": "datum.value % 5 === 0", "value": [4,2]}, "value": [2,2]}, "gridWidth": {"condition": {"test": "datum.value % 5 === 0", "value": 1.1}, "value": 0.8}}},
  "y": {"field": "y", "type": "quantitative", "scale": {"nice": false, "zero": false, "padding": 5.45}, "axis": {"title": "FVD ( ↓ )", "format": "d", "values": [380,400,420,440,460,480,500,520,540,560,580,600,620,640,660,680], "labelExpr": "datum.value % 100 === 0 ? datum.label : ''", "gridColor": {"condition": {"test": "datum.value % 100 === 0", "value": "#c6c6c6"}, "value": "#e3e3e3"}, "gridDash": {"condition": {"test": "datum.value % 100 === 0", "value": [4,2]}, "value": [2,2]}, "gridWidth": {"condition": {"test": "datum.value % 100 === 0", "value": 1.1}, "value": 0.8}}}
 },
 "layer": [
  {"transform": [{"filter": {"field": "s", "oneOf": ["add","perturb","remove","replace","swap"]}}], "mark": {"type": "line", "strokeWidth": 2}, "encoding": {"color": {"field": "s", "type": "nominal", "scale": {"domain": ["add","perturb","remove","replace","swap"], "range": ["#E69F00","#8B4513","#4B0082","#D55E00","#8B0000"]}, "legend": null}}},
  {"transform": [{"filter": {"field": "s", "oneOf": ["add","perturb","remove","replace","swap"]}}], "mark": {"type": "point", "filled": true, "size": 75, "opacity": 1, "stroke": "white", "strokeWidth": 0.6}, "encoding": {"color": {"field": "s", "type": "nominal", "scale": {"domain": ["add","perturb","remove","replace","swap"], "range": ["#E69F00","#8B4513","#4B0082","#D55E00","#8B0000"]}, "legend": null}, "shape": {"field": "s", "type": "nominal", "scale": {"domain": ["add","perturb","remove","replace","swap"], "range": ["triangle-up","triangle-down","triangle-right","diamond","triangle-left"]}, "legend": null}}},
  {"transform": [{"filter": {"field": "s", "oneOf": ["bcni","gaussian","hscan","sacn","tani","uniform"]}}], "mark": {"type": "line", "strokeWidth": 2}, "encoding": {"color": {"field": "s", "type": "nominal", "scale": {"domain": ["bcni","gaussian","hscan","sacn","tani","uniform"], "range": ["#0072B2","#6A5ACD","#CC79A7","#2CA02C","#2F4F4F","#20B2AA"]}, "legend": null}}},
  {"transform": [{"filter": {"field": "s", "oneOf": ["bcni","gaussian","hscan","sacn","tani","uniform"]}}], "mark": {"type": "point", "filled": true, "size": 75, "opacity": 1, "stroke": "white", "strokeWidth": 0.6}, "encoding": {"color": {"field": "s", "type": "nominal", "scale": {"domain": ["bcni","gaussian","hscan","sacn","tani","uniform"], "range": ["#0072B2","#6A5ACD","#CC79A7","#2CA02C","#2F4F4F","#20B2AA"]}, "legend": null}, "shape": {"field": "s", "type": "nominal", "scale": {"domain": ["bcni","gaussian","hscan","sacn","tani","uniform"], "range": ["circle","M0,-1L0.866,-0.5L0.866,0.5L0,1L-0.866,0.5L-0.866,-0.5Z","circle","square","M0,-1.15L0.62,0L0,1.15L-0.62,0Z","circle"]}, "legend": null}}},
  {"transform": [{"filter": {"field": "s", "equal": "uncorrupted"}}], "mark": {"type": "point", "filled": true, "size": 120, "opacity": 1, "color": "black"}}
 ],
 "resolve": {"scale": {"color": "independent", "shape": "independent"}}
},
{"title": {"text": "MSRVTT: SSIM", "anchor": "middle"}, "data": {"name": "p6"}, "width": 190, "height": 120,
 "encoding": {
  "x": {"field": "x", "type": "quantitative", "scale": {"nice": false, "zero": false, "padding": 8.64}, "axis": {"title": null, "labels": false, "values": [0,1,2,3,4,5,6,7,8,9,10,11,12,13,14,15,16,17,18,19,20], "gridColor": {"condition": {"test": "datum.value % 5 === 0", "value": "#c6c6c6"}, "value": "#e3e3e3"}, "gridDash": {"condition": {"test": "datum.value % 5 === 0", "value": [4,2]}, "value": [2,2]}, "gridWidth": {"condition": {"test": "datum.value % 5 === 0", "value": 1.1}, "value": 0.8}}},
  "y": {"field": "y", "type": "quantitative", "scale": {"nice": false, "zero": false, "padding": 5.45}, "axis": {"title": "SSIM ( ↑ )", "format": ".3f", "values": [0.042,0.043,0.044,0.045,0.046,0.047,0.048,0.049,0.05,0.051,0.052,0.053,0.054,0.055,0.056,0.057,0.058,0.059,0.06,0.061,0.062,0.063,0.064,0.065,0.066], "labelExpr": "abs(datum.value*200 - round(datum.value*200)) < 0.01 ? datum.label : ''", "gridColor": {"condition": {"test": "abs(datum.value*200 - round(datum.value*200)) < 0.01", "value": "#c6c6c6"}, "value": "#e3e3e3"}, "gridDash": {"condition": {"test": "abs(datum.value*200 - round(datum.value*200)) < 0.01", "value": [4,2]}, "value": [2,2]}, "gridWidth": {"condition": {"test": "abs(datum.value*200 - round(datum.value*200)) < 0.01", "value": 1.1}, "value": 0.8}}}
 },
 "layer": [
  {"transform": [{"filter": {"field": "s", "oneOf": ["add","perturb","remove","replace","swap"]}}], "mark": {"type": "line", "strokeWidth": 2}, "encoding": {"color": {"field": "s", "type": "nominal", "scale": {"domain": ["add","perturb","remove","replace","swap"], "range": ["#E69F00","#8B4513","#4B0082","#D55E00","#8B0000"]}, "legend": null}}},
  {"transform": [{"filter": {"field": "s", "oneOf": ["add","perturb","remove","replace","swap"]}}], "mark": {"type": "point", "filled": true, "size": 75, "opacity": 1, "stroke": "white", "strokeWidth": 0.6}, "encoding": {"color": {"field": "s", "type": "nominal", "scale": {"domain": ["add","perturb","remove","replace","swap"], "range": ["#E69F00","#8B4513","#4B0082","#D55E00","#8B0000"]}, "legend": null}, "shape": {"field": "s", "type": "nominal", "scale": {"domain": ["add","perturb","remove","replace","swap"], "range": ["triangle-up","triangle-down","triangle-right","diamond","triangle-left"]}, "legend": null}}},
  {"transform": [{"filter": {"field": "s", "oneOf": ["bcni","gaussian","hscan","sacn","tani","uniform"]}}], "mark": {"type": "line", "strokeWidth": 2}, "encoding": {"color": {"field": "s", "type": "nominal", "scale": {"domain": ["bcni","gaussian","hscan","sacn","tani","uniform"], "range": ["#0072B2","#6A5ACD","#CC79A7","#2CA02C","#2F4F4F","#20B2AA"]}, "legend": null}}},
  {"transform": [{"filter": {"field": "s", "oneOf": ["bcni","gaussian","hscan","sacn","tani","uniform"]}}], "mark": {"type": "point", "filled": true, "size": 75, "opacity": 1, "stroke": "white", "strokeWidth": 0.6}, "encoding": {"color": {"field": "s", "type": "nominal", "scale": {"domain": ["bcni","gaussian","hscan","sacn","tani","uniform"], "range": ["#0072B2","#6A5ACD","#CC79A7","#2CA02C","#2F4F4F","#20B2AA"]}, "legend": null}, "shape": {"field": "s", "type": "nominal", "scale": {"domain": ["bcni","gaussian","hscan","sacn","tani","uniform"], "range": ["circle","M0,-1L0.866,-0.5L0.866,0.5L0,1L-0.866,0.5L-0.866,-0.5Z","circle","square","M0,-1.15L0.62,0L0,1.15L-0.62,0Z","circle"]}, "legend": null}}},
  {"transform": [{"filter": {"field": "s", "equal": "uncorrupted"}}], "mark": {"type": "point", "filled": true, "size": 120, "opacity": 1, "color": "black"}}
 ],
 "resolve": {"scale": {"color": "independent", "shape": "independent"}}
},
{"title": {"text": "MSRVTT: PSNR", "anchor": "middle"}, "data": {"name": "p7"}, "width": 190, "height": 120,
 "encoding": {
  "x": {"field": "x", "type": "quantitative", "scale": {"nice": false, "zero": false, "padding": 8.64}, "axis": {"title": null, "labels": false, "values": [0,1,2,3,4,5,6,7,8,9,10,11,12,13,14,15,16,17,18,19,20], "gridColor": {"condition": {"test": "datum.value % 5 === 0", "value": "#c6c6c6"}, "value": "#e3e3e3"}, "gridDash": {"condition": {"test": "datum.value % 5 === 0", "value": [4,2]}, "value": [2,2]}, "gridWidth": {"condition": {"test": "datum.value % 5 === 0", "value": 1.1}, "value": 0.8}}},
  "y": {"field": "y", "type": "quantitative", "scale": {"nice": false, "zero": false, "padding": 5.45}, "axis": {"title": "PSNR ( ↑ )", "format": ".1f", "values": [8.6,8.64,8.68,8.72,8.76,8.8,8.84,8.88,8.92,8.96,9,9.04,9.08,9.12,9.16,9.2,9.24,9.28,9.32], "labelExpr": "abs(datum.value*5 - round(datum.value*5)) < 0.01 ? datum.label : ''", "gridColor": {"condition": {"test": "abs(datum.value*5 - round(datum.value*5)) < 0.01", "value": "#c6c6c6"}, "value": "#e3e3e3"}, "gridDash": {"condition": {"test": "abs(datum.value*5 - round(datum.value*5)) < 0.01", "value": [4,2]}, "value": [2,2]}, "gridWidth": {"condition": {"test": "abs(datum.value*5 - round(datum.value*5)) < 0.01", "value": 1.1}, "value": 0.8}}}
 },
 "layer": [
  {"transform": [{"filter": {"field": "s", "oneOf": ["add","perturb","remove","replace","swap"]}}], "mark": {"type": "line", "strokeWidth": 2}, "encoding": {"color": {"field": "s", "type": "nominal", "scale": {"domain": ["add","perturb","remove","replace","swap"], "range": ["#E69F00","#8B4513","#4B0082","#D55E00","#8B0000"]}, "legend": null}}},
  {"transform": [{"filter": {"field": "s", "oneOf": ["add","perturb","remove","replace","swap"]}}], "mark": {"type": "point", "filled": true, "size": 75, "opacity": 1, "stroke": "white", "strokeWidth": 0.6}, "encoding": {"color": {"field": "s", "type": "nominal", "scale": {"domain": ["add","perturb","remove","replace","swap"], "range": ["#E69F00","#8B4513","#4B0082","#D55E00","#8B0000"]}, "legend": null}, "shape": {"field": "s", "type": "nominal", "scale": {"domain": ["add","perturb","remove","replace","swap"], "range": ["triangle-up","triangle-down","triangle-right","diamond","triangle-left"]}, "legend": null}}},
  {"transform": [{"filter": {"field": "s", "oneOf": ["bcni","gaussian","hscan","sacn","tani","uniform"]}}], "mark": {"type": "line", "strokeWidth": 2}, "encoding": {"color": {"field": "s", "type": "nominal", "scale": {"domain": ["bcni","gaussian","hscan","sacn","tani","uniform"], "range": ["#0072B2","#6A5ACD","#CC79A7","#2CA02C","#2F4F4F","#20B2AA"]}, "legend": null}}},
  {"transform": [{"filter": {"field": "s", "oneOf": ["bcni","gaussian","hscan","sacn","tani","uniform"]}}], "mark": {"type": "point", "filled": true, "size": 75, "opacity": 1, "stroke": "white", "strokeWidth": 0.6}, "encoding": {"color": {"field": "s", "type": "nominal", "scale": {"domain": ["bcni","gaussian","hscan","sacn","tani","uniform"], "range": ["#0072B2","#6A5ACD","#CC79A7","#2CA02C","#2F4F4F","#20B2AA"]}, "legend": null}, "shape": {"field": "s", "type": "nominal", "scale": {"domain": ["bcni","gaussian","hscan","sacn","tani","uniform"], "range": ["circle","M0,-1L0.866,-0.5L0.866,0.5L0,1L-0.866,0.5L-0.866,-0.5Z","circle","square","M0,-1.15L0.62,0L0,1.15L-0.62,0Z","circle"]}, "legend": null}}},
  {"transform": [{"filter": {"field": "s", "equal": "uncorrupted"}}], "mark": {"type": "point", "filled": true, "size": 120, "opacity": 1, "color": "black"}}
 ],
 "resolve": {"scale": {"color": "independent", "shape": "independent"}}
},
{"title": {"text": "MSRVTT: LPIPS", "anchor": "middle"}, "data": {"name": "p8"}, "width": 190, "height": 120,
 "encoding": {
  "x": {"field": "x", "type": "quantitative", "scale": {"nice": false, "zero": false, "padding": 8.64}, "axis": {"title": null, "labels": false, "values": [0,1,2,3,4,5,6,7,8,9,10,11,12,13,14,15,16,17,18,19,20], "gridColor": {"condition": {"test": "datum.value % 5 === 0", "value": "#c6c6c6"}, "value": "#e3e3e3"}, "gridDash": {"condition": {"test": "datum.value % 5 === 0", "value": [4,2]}, "value": [2,2]}, "gridWidth": {"condition": {"test": "datum.value % 5 === 0", "value": 1.1}, "value": 0.8}}},
  "y": {"field": "y", "type": "quantitative", "scale": {"nice": false, "zero": false, "padding": 5.45}, "axis": {"title": "LPIPS ( ↓ )", "format": ".2f", "values": [0.532,0.536,0.54,0.544,0.548,0.552,0.556,0.56,0.564,0.568,0.572,0.576,0.58,0.584,0.588], "labelExpr": "abs(datum.value*50 - round(datum.value*50)) < 0.01 ? datum.label : ''", "gridColor": {"condition": {"test": "abs(datum.value*50 - round(datum.value*50)) < 0.01", "value": "#c6c6c6"}, "value": "#e3e3e3"}, "gridDash": {"condition": {"test": "abs(datum.value*50 - round(datum.value*50)) < 0.01", "value": [4,2]}, "value": [2,2]}, "gridWidth": {"condition": {"test": "abs(datum.value*50 - round(datum.value*50)) < 0.01", "value": 1.1}, "value": 0.8}}}
 },
 "layer": [
  {"transform": [{"filter": {"field": "s", "oneOf": ["add","perturb","remove","replace","swap"]}}], "mark": {"type": "line", "strokeWidth": 2}, "encoding": {"color": {"field": "s", "type": "nominal", "scale": {"domain": ["add","perturb","remove","replace","swap"], "range": ["#E69F00","#8B4513","#4B0082","#D55E00","#8B0000"]}, "legend": null}}},
  {"transform": [{"filter": {"field": "s", "oneOf": ["add","perturb","remove","replace","swap"]}}], "mark": {"type": "point", "filled": true, "size": 75, "opacity": 1, "stroke": "white", "strokeWidth": 0.6}, "encoding": {"color": {"field": "s", "type": "nominal", "scale": {"domain": ["add","perturb","remove","replace","swap"], "range": ["#E69F00","#8B4513","#4B0082","#D55E00","#8B0000"]}, "legend": null}, "shape": {"field": "s", "type": "nominal", "scale": {"domain": ["add","perturb","remove","replace","swap"], "range": ["triangle-up","triangle-down","triangle-right","diamond","triangle-left"]}, "legend": null}}},
  {"transform": [{"filter": {"field": "s", "oneOf": ["bcni","gaussian","hscan","sacn","tani","uniform"]}}], "mark": {"type": "line", "strokeWidth": 2}, "encoding": {"color": {"field": "s", "type": "nominal", "scale": {"domain": ["bcni","gaussian","hscan","sacn","tani","uniform"], "range": ["#0072B2","#6A5ACD","#CC79A7","#2CA02C","#2F4F4F","#20B2AA"]}, "legend": null}}},
  {"transform": [{"filter": {"field": "s", "oneOf": ["bcni","gaussian","hscan","sacn","tani","uniform"]}}], "mark": {"type": "point", "filled": true, "size": 75, "opacity": 1, "stroke": "white", "strokeWidth": 0.6}, "encoding": {"color": {"field": "s", "type": "nominal", "scale": {"domain": ["bcni","gaussian","hscan","sacn","tani","uniform"], "range": ["#0072B2","#6A5ACD","#CC79A7","#2CA02C","#2F4F4F","#20B2AA"]}, "legend": null}, "shape": {"field": "s", "type": "nominal", "scale": {"domain": ["bcni","gaussian","hscan","sacn","tani","uniform"], "range": ["circle","M0,-1L0.866,-0.5L0.866,0.5L0,1L-0.866,0.5L-0.866,-0.5Z","circle","square","M0,-1.15L0.62,0L0,1.15L-0.62,0Z","circle"]}, "legend": null}}},
  {"transform": [{"filter": {"field": "s", "equal": "uncorrupted"}}], "mark": {"type": "point", "filled": true, "size": 120, "opacity": 1, "color": "black"}}
 ],
 "resolve": {"scale": {"color": "independent", "shape": "independent"}}
},
{"title": {"text": "MSVD: FVD", "anchor": "middle"}, "data": {"name": "p9"}, "width": 190, "height": 120,
 "encoding": {
  "x": {"field": "x", "type": "quantitative", "scale": {"nice": false, "zero": false, "padding": 8.64}, "axis": {"title": null, "labels": false, "values": [0,1,2,3,4,5,6,7,8,9,10,11,12,13,14,15,16,17,18,19,20], "gridColor": {"condition": {"test": "datum.value % 5 === 0", "value": "#c6c6c6"}, "value": "#e3e3e3"}, "gridDash": {"condition": {"test": "datum.value % 5 === 0", "value": [4,2]}, "value": [2,2]}, "gridWidth": {"condition": {"test": "datum.value % 5 === 0", "value": 1.1}, "value": 0.8}}},
  "y": {"field": "y", "type": "quantitative", "scale": {"nice": false, "zero": false, "padding": 5.45}, "axis": {"title": "FVD ( ↓ )", "format": "d", "values": [340,360,380,400,420,440,460,480,500,520,540,560,580,600,620,640,660,680,700,720,740,760,780], "labelExpr": "datum.value % 100 === 0 ? datum.label : ''", "gridColor": {"condition": {"test": "datum.value % 100 === 0", "value": "#c6c6c6"}, "value": "#e3e3e3"}, "gridDash": {"condition": {"test": "datum.value % 100 === 0", "value": [4,2]}, "value": [2,2]}, "gridWidth": {"condition": {"test": "datum.value % 100 === 0", "value": 1.1}, "value": 0.8}}}
 },
 "layer": [
  {"transform": [{"filter": {"field": "s", "oneOf": ["add","perturb","remove","replace","swap"]}}], "mark": {"type": "line", "strokeWidth": 2}, "encoding": {"color": {"field": "s", "type": "nominal", "scale": {"domain": ["add","perturb","remove","replace","swap"], "range": ["#E69F00","#8B4513","#4B0082","#D55E00","#8B0000"]}, "legend": null}}},
  {"transform": [{"filter": {"field": "s", "oneOf": ["add","perturb","remove","replace","swap"]}}], "mark": {"type": "point", "filled": true, "size": 75, "opacity": 1, "stroke": "white", "strokeWidth": 0.6}, "encoding": {"color": {"field": "s", "type": "nominal", "scale": {"domain": ["add","perturb","remove","replace","swap"], "range": ["#E69F00","#8B4513","#4B0082","#D55E00","#8B0000"]}, "legend": null}, "shape": {"field": "s", "type": "nominal", "scale": {"domain": ["add","perturb","remove","replace","swap"], "range": ["triangle-up","triangle-down","triangle-right","diamond","triangle-left"]}, "legend": null}}},
  {"transform": [{"filter": {"field": "s", "oneOf": ["bcni","gaussian","hscan","sacn","tani","uniform"]}}], "mark": {"type": "line", "strokeWidth": 2}, "encoding": {"color": {"field": "s", "type": "nominal", "scale": {"domain": ["bcni","gaussian","hscan","sacn","tani","uniform"], "range": ["#0072B2","#6A5ACD","#CC79A7","#2CA02C","#2F4F4F","#20B2AA"]}, "legend": null}}},
  {"transform": [{"filter": {"field": "s", "oneOf": ["bcni","gaussian","hscan","sacn","tani","uniform"]}}], "mark": {"type": "point", "filled": true, "size": 75, "opacity": 1, "stroke": "white", "strokeWidth": 0.6}, "encoding": {"color": {"field": "s", "type": "nominal", "scale": {"domain": ["bcni","gaussian","hscan","sacn","tani","uniform"], "range": ["#0072B2","#6A5ACD","#CC79A7","#2CA02C","#2F4F4F","#20B2AA"]}, "legend": null}, "shape": {"field": "s", "type": "nominal", "scale": {"domain": ["bcni","gaussian","hscan","sacn","tani","uniform"], "range": ["circle","M0,-1L0.866,-0.5L0.866,0.5L0,1L-0.866,0.5L-0.866,-0.5Z","circle","square","M0,-1.15L0.62,0L0,1.15L-0.62,0Z","circle"]}, "legend": null}}},
  {"transform": [{"filter": {"field": "s", "equal": "uncorrupted"}}], "mark": {"type": "point", "filled": true, "size": 120, "opacity": 1, "color": "black"}}
 ],
 "resolve": {"scale": {"color": "independent", "shape": "independent"}}
},
{"title": {"text": "MSVD: SSIM", "anchor": "middle"}, "data": {"name": "p10"}, "width": 190, "height": 120,
 "encoding": {
  "x": {"field": "x", "type": "quantitative", "scale": {"nice": false, "zero": false, "padding": 8.64}, "axis": {"title": null, "labels": false, "values": [0,1,2,3,4,5,6,7,8,9,10,11,12,13,14,15,16,17,18,19,20], "gridColor": {"condition": {"test": "datum.value % 5 === 0", "value": "#c6c6c6"}, "value": "#e3e3e3"}, "gridDash": {"condition": {"test": "datum.value % 5 === 0", "value": [4,2]}, "value": [2,2]}, "gridWidth": {"condition": {"test": "datum.value % 5 === 0", "value": 1.1}, "value": 0.8}}},
  "y": {"field": "y", "type": "quantitative", "scale": {"nice": false, "zero": false, "padding": 5.45}, "axis": {"title": "SSIM ( ↑ )", "format": ".3f", "values": [0.055,0.056,0.057,0.058,0.059,0.06,0.061,0.062,0.063,0.064,0.065,0.066,0.067,0.068,0.069,0.07,0.071,0.072,0.073,0.074,0.075,0.076,0.077,0.078,0.079], "labelExpr": "abs(datum.value*200 - round(datum.value*200)) < 0.01 ? datum.label : ''", "gridColor": {"condition": {"test": "abs(datum.value*200 - round(datum.value*200)) < 0.01", "value": "#c6c6c6"}, "value": "#e3e3e3"}, "gridDash": {"condition": {"test": "abs(datum.value*200 - round(datum.value*200)) < 0.01", "value": [4,2]}, "value": [2,2]}, "gridWidth": {"condition": {"test": "abs(datum.value*200 - round(datum.value*200)) < 0.01", "value": 1.1}, "value": 0.8}}}
 },
 "layer": [
  {"transform": [{"filter": {"field": "s", "oneOf": ["add","perturb","remove","replace","swap"]}}], "mark": {"type": "line", "strokeWidth": 2}, "encoding": {"color": {"field": "s", "type": "nominal", "scale": {"domain": ["add","perturb","remove","replace","swap"], "range": ["#E69F00","#8B4513","#4B0082","#D55E00","#8B0000"]}, "legend": null}}},
  {"transform": [{"filter": {"field": "s", "oneOf": ["add","perturb","remove","replace","swap"]}}], "mark": {"type": "point", "filled": true, "size": 75, "opacity": 1, "stroke": "white", "strokeWidth": 0.6}, "encoding": {"color": {"field": "s", "type": "nominal", "scale": {"domain": ["add","perturb","remove","replace","swap"], "range": ["#E69F00","#8B4513","#4B0082","#D55E00","#8B0000"]}, "legend": null}, "shape": {"field": "s", "type": "nominal", "scale": {"domain": ["add","perturb","remove","replace","swap"], "range": ["triangle-up","triangle-down","triangle-right","diamond","triangle-left"]}, "legend": null}}},
  {"transform": [{"filter": {"field": "s", "oneOf": ["bcni","gaussian","hscan","sacn","tani","uniform"]}}], "mark": {"type": "line", "strokeWidth": 2}, "encoding": {"color": {"field": "s", "type": "nominal", "scale": {"domain": ["bcni","gaussian","hscan","sacn","tani","uniform"], "range": ["#0072B2","#6A5ACD","#CC79A7","#2CA02C","#2F4F4F","#20B2AA"]}, "legend": null}}},
  {"transform": [{"filter": {"field": "s", "oneOf": ["bcni","gaussian","hscan","sacn","tani","uniform"]}}], "mark": {"type": "point", "filled": true, "size": 75, "opacity": 1, "stroke": "white", "strokeWidth": 0.6}, "encoding": {"color": {"field": "s", "type": "nominal", "scale": {"domain": ["bcni","gaussian","hscan","sacn","tani","uniform"], "range": ["#0072B2","#6A5ACD","#CC79A7","#2CA02C","#2F4F4F","#20B2AA"]}, "legend": null}, "shape": {"field": "s", "type": "nominal", "scale": {"domain": ["bcni","gaussian","hscan","sacn","tani","uniform"], "range": ["circle","M0,-1L0.866,-0.5L0.866,0.5L0,1L-0.866,0.5L-0.866,-0.5Z","circle","square","M0,-1.15L0.62,0L0,1.15L-0.62,0Z","circle"]}, "legend": null}}},
  {"transform": [{"filter": {"field": "s", "equal": "uncorrupted"}}], "mark": {"type": "point", "filled": true, "size": 120, "opacity": 1, "color": "black"}}
 ],
 "resolve": {"scale": {"color": "independent", "shape": "independent"}}
},
{"title": {"text": "MSVD: PSNR", "anchor": "middle"}, "data": {"name": "p11"}, "width": 190, "height": 120,
 "encoding": {
  "x": {"field": "x", "type": "quantitative", "scale": {"nice": false, "zero": false, "padding": 8.64}, "axis": {"title": null, "labels": false, "values": [0,1,2,3,4,5,6,7,8,9,10,11,12,13,14,15,16,17,18,19,20], "gridColor": {"condition": {"test": "datum.value % 5 === 0", "value": "#c6c6c6"}, "value": "#e3e3e3"}, "gridDash": {"condition": {"test": "datum.value % 5 === 0", "value": [4,2]}, "value": [2,2]}, "gridWidth": {"condition": {"test": "datum.value % 5 === 0", "value": 1.1}, "value": 0.8}}},
  "y": {"field": "y", "type": "quantitative", "scale": {"nice": false, "zero": false, "padding": 5.45}, "axis": {"title": "PSNR ( ↑ )", "format": ".1f", "values": [9.12,9.16,9.2,9.24,9.28,9.32,9.36,9.4,9.44,9.48,9.52,9.56,9.6,9.64,9.68,9.72,9.76,9.8,9.84,9.88,9.92,9.96], "labelExpr": "abs(datum.value*5 - round(datum.value*5)) < 0.01 ? datum.label : ''", "gridColor": {"condition": {"test": "abs(datum.value*5 - round(datum.value*5)) < 0.01", "value": "#c6c6c6"}, "value": "#e3e3e3"}, "gridDash": {"condition": {"test": "abs(datum.value*5 - round(datum.value*5)) < 0.01", "value": [4,2]}, "value": [2,2]}, "gridWidth": {"condition": {"test": "abs(datum.value*5 - round(datum.value*5)) < 0.01", "value": 1.1}, "value": 0.8}}}
 },
 "layer": [
  {"transform": [{"filter": {"field": "s", "oneOf": ["add","perturb","remove","replace","swap"]}}], "mark": {"type": "line", "strokeWidth": 2}, "encoding": {"color": {"field": "s", "type": "nominal", "scale": {"domain": ["add","perturb","remove","replace","swap"], "range": ["#E69F00","#8B4513","#4B0082","#D55E00","#8B0000"]}, "legend": null}}},
  {"transform": [{"filter": {"field": "s", "oneOf": ["add","perturb","remove","replace","swap"]}}], "mark": {"type": "point", "filled": true, "size": 75, "opacity": 1, "stroke": "white", "strokeWidth": 0.6}, "encoding": {"color": {"field": "s", "type": "nominal", "scale": {"domain": ["add","perturb","remove","replace","swap"], "range": ["#E69F00","#8B4513","#4B0082","#D55E00","#8B0000"]}, "legend": null}, "shape": {"field": "s", "type": "nominal", "scale": {"domain": ["add","perturb","remove","replace","swap"], "range": ["triangle-up","triangle-down","triangle-right","diamond","triangle-left"]}, "legend": null}}},
  {"transform": [{"filter": {"field": "s", "oneOf": ["bcni","gaussian","hscan","sacn","tani","uniform"]}}], "mark": {"type": "line", "strokeWidth": 2}, "encoding": {"color": {"field": "s", "type": "nominal", "scale": {"domain": ["bcni","gaussian","hscan","sacn","tani","uniform"], "range": ["#0072B2","#6A5ACD","#CC79A7","#2CA02C","#2F4F4F","#20B2AA"]}, "legend": null}}},
  {"transform": [{"filter": {"field": "s", "oneOf": ["bcni","gaussian","hscan","sacn","tani","uniform"]}}], "mark": {"type": "point", "filled": true, "size": 75, "opacity": 1, "stroke": "white", "strokeWidth": 0.6}, "encoding": {"color": {"field": "s", "type": "nominal", "scale": {"domain": ["bcni","gaussian","hscan","sacn","tani","uniform"], "range": ["#0072B2","#6A5ACD","#CC79A7","#2CA02C","#2F4F4F","#20B2AA"]}, "legend": null}, "shape": {"field": "s", "type": "nominal", "scale": {"domain": ["bcni","gaussian","hscan","sacn","tani","uniform"], "range": ["circle","M0,-1L0.866,-0.5L0.866,0.5L0,1L-0.866,0.5L-0.866,-0.5Z","circle","square","M0,-1.15L0.62,0L0,1.15L-0.62,0Z","circle"]}, "legend": null}}},
  {"transform": [{"filter": {"field": "s", "equal": "uncorrupted"}}], "mark": {"type": "point", "filled": true, "size": 120, "opacity": 1, "color": "black"}}
 ],
 "resolve": {"scale": {"color": "independent", "shape": "independent"}}
},
{"title": {"text": "MSVD: LPIPS", "anchor": "middle"}, "data": {"name": "p12"}, "width": 190, "height": 120,
 "encoding": {
  "x": {"field": "x", "type": "quantitative", "scale": {"nice": false, "zero": false, "padding": 8.64}, "axis": {"title": null, "labels": false, "values": [0,1,2,3,4,5,6,7,8,9,10,11,12,13,14,15,16,17,18,19,20], "gridColor": {"condition": {"test": "datum.value % 5 === 0", "value": "#c6c6c6"}, "value": "#e3e3e3"}, "gridDash": {"condition": {"test": "datum.value % 5 === 0", "value": [4,2]}, "value": [2,2]}, "gridWidth": {"condition": {"test": "datum.value % 5 === 0", "value": 1.1}, "value": 0.8}}},
  "y": {"field": "y", "type": "quantitative", "scale": {"nice": false, "zero": false, "padding": 5.45}, "axis": {"title": "LPIPS ( ↓ )", "format": ".2f", "values": [0.504,0.506,0.508,0.51,0.512,0.514,0.516,0.518,0.52,0.522,0.524,0.526,0.528,0.53,0.532,0.534,0.536,0.538,0.54,0.542], "labelExpr": "abs(datum.value*100 - round(datum.value*100)) < 0.01 ? datum.label : ''", "gridColor": {"condition": {"test": "abs(datum.value*100 - round(datum.value*100)) < 0.01", "value": "#c6c6c6"}, "value": "#e3e3e3"}, "gridDash": {"condition": {"test": "abs(datum.value*100 - round(datum.value*100)) < 0.01", "value": [4,2]}, "value": [2,2]}, "gridWidth": {"condition": {"test": "abs(datum.value*100 - round(datum.value*100)) < 0.01", "value": 1.1}, "value": 0.8}}}
 },
 "layer": [
  {"transform": [{"filter": {"field": "s", "oneOf": ["add","perturb","remove","replace","swap"]}}], "mark": {"type": "line", "strokeWidth": 2}, "encoding": {"color": {"field": "s", "type": "nominal", "scale": {"domain": ["add","perturb","remove","replace","swap"], "range": ["#E69F00","#8B4513","#4B0082","#D55E00","#8B0000"]}, "legend": null}}},
  {"transform": [{"filter": {"field": "s", "oneOf": ["add","perturb","remove","replace","swap"]}}], "mark": {"type": "point", "filled": true, "size": 75, "opacity": 1, "stroke": "white", "strokeWidth": 0.6}, "encoding": {"color": {"field": "s", "type": "nominal", "scale": {"domain": ["add","perturb","remove","replace","swap"], "range": ["#E69F00","#8B4513","#4B0082","#D55E00","#8B0000"]}, "legend": null}, "shape": {"field": "s", "type": "nominal", "scale": {"domain": ["add","perturb","remove","replace","swap"], "range": ["triangle-up","triangle-down","triangle-right","diamond","triangle-left"]}, "legend": null}}},
  {"transform": [{"filter": {"field": "s", "oneOf": ["bcni","gaussian","hscan","sacn","tani","uniform"]}}], "mark": {"type": "line", "strokeWidth": 2}, "encoding": {"color": {"field": "s", "type": "nominal", "scale": {"domain": ["bcni","gaussian","hscan","sacn","tani","uniform"], "range": ["#0072B2","#6A5ACD","#CC79A7","#2CA02C","#2F4F4F","#20B2AA"]}, "legend": null}}},
  {"transform": [{"filter": {"field": "s", "oneOf": ["bcni","gaussian","hscan","sacn","tani","uniform"]}}], "mark": {"type": "point", "filled": true, "size": 75, "opacity": 1, "stroke": "white", "strokeWidth": 0.6}, "encoding": {"color": {"field": "s", "type": "nominal", "scale": {"domain": ["bcni","gaussian","hscan","sacn","tani","uniform"], "range": ["#0072B2","#6A5ACD","#CC79A7","#2CA02C","#2F4F4F","#20B2AA"]}, "legend": null}, "shape": {"field": "s", "type": "nominal", "scale": {"domain": ["bcni","gaussian","hscan","sacn","tani","uniform"], "range": ["circle","M0,-1L0.866,-0.5L0.866,0.5L0,1L-0.866,0.5L-0.866,-0.5Z","circle","square","M0,-1.15L0.62,0L0,1.15L-0.62,0Z","circle"]}, "legend": null}}},
  {"transform": [{"filter": {"field": "s", "equal": "uncorrupted"}}], "mark": {"type": "point", "filled": true, "size": 120, "opacity": 1, "color": "black"}}
 ],
 "resolve": {"scale": {"color": "independent", "shape": "independent"}}
},
{"title": {"text": "UCF101: FVD", "anchor": "middle"}, "data": {"name": "p13"}, "width": 190, "height": 120,
 "encoding": {
  "x": {"field": "x", "type": "quantitative", "scale": {"nice": false, "zero": false, "padding": 8.64}, "axis": {"title": "Noise Ratio (%)", "values": [0,1,2,3,4,5,6,7,8,9,10,11,12,13,14,15,16,17,18,19,20], "labelExpr": "datum.value % 5 === 0 ? datum.label : ''", "gridColor": {"condition": {"test": "datum.value % 5 === 0", "value": "#c6c6c6"}, "value": "#e3e3e3"}, "gridDash": {"condition": {"test": "datum.value % 5 === 0", "value": [4,2]}, "value": [2,2]}, "gridWidth": {"condition": {"test": "datum.value % 5 === 0", "value": 1.1}, "value": 0.8}}},
  "y": {"field": "y", "type": "quantitative", "scale": {"nice": false, "zero": false, "padding": 5.45}, "axis": {"title": "FVD ( ↓ )", "format": "d", "values": [420,440,460,480,500,520,540,560,580,600,620,640,660,680,700,720,740,760], "labelExpr": "datum.value % 100 === 0 ? datum.label : ''", "gridColor": {"condition": {"test": "datum.value % 100 === 0", "value": "#c6c6c6"}, "value": "#e3e3e3"}, "gridDash": {"condition": {"test": "datum.value % 100 === 0", "value": [4,2]}, "value": [2,2]}, "gridWidth": {"condition": {"test": "datum.value % 100 === 0", "value": 1.1}, "value": 0.8}}}
 },
 "layer": [
  {"transform": [{"filter": {"field": "s", "oneOf": ["add","perturb","remove","replace","swap"]}}], "mark": {"type": "line", "strokeWidth": 2}, "encoding": {"color": {"field": "s", "type": "nominal", "scale": {"domain": ["add","perturb","remove","replace","swap"], "range": ["#E69F00","#8B4513","#4B0082","#D55E00","#8B0000"]}, "legend": null}}},
  {"transform": [{"filter": {"field": "s", "oneOf": ["add","perturb","remove","replace","swap"]}}], "mark": {"type": "point", "filled": true, "size": 75, "opacity": 1, "stroke": "white", "strokeWidth": 0.6}, "encoding": {"color": {"field": "s", "type": "nominal", "scale": {"domain": ["add","perturb","remove","replace","swap"], "range": ["#E69F00","#8B4513","#4B0082","#D55E00","#8B0000"]}, "legend": null}, "shape": {"field": "s", "type": "nominal", "scale": {"domain": ["add","perturb","remove","replace","swap"], "range": ["triangle-up","triangle-down","triangle-right","diamond","triangle-left"]}, "legend": null}}},
  {"transform": [{"filter": {"field": "s", "oneOf": ["bcni","gaussian","hscan","sacn","tani","uniform"]}}], "mark": {"type": "line", "strokeWidth": 2}, "encoding": {"color": {"field": "s", "type": "nominal", "scale": {"domain": ["bcni","gaussian","hscan","sacn","tani","uniform"], "range": ["#0072B2","#6A5ACD","#CC79A7","#2CA02C","#2F4F4F","#20B2AA"]}, "legend": null}}},
  {"transform": [{"filter": {"field": "s", "oneOf": ["bcni","gaussian","hscan","sacn","tani","uniform"]}}], "mark": {"type": "point", "filled": true, "size": 75, "opacity": 1, "stroke": "white", "strokeWidth": 0.6}, "encoding": {"color": {"field": "s", "type": "nominal", "scale": {"domain": ["bcni","gaussian","hscan","sacn","tani","uniform"], "range": ["#0072B2","#6A5ACD","#CC79A7","#2CA02C","#2F4F4F","#20B2AA"]}, "legend": null}, "shape": {"field": "s", "type": "nominal", "scale": {"domain": ["bcni","gaussian","hscan","sacn","tani","uniform"], "range": ["circle","M0,-1L0.866,-0.5L0.866,0.5L0,1L-0.866,0.5L-0.866,-0.5Z","circle","square","M0,-1.15L0.62,0L0,1.15L-0.62,0Z","circle"]}, "legend": null}}},
  {"transform": [{"filter": {"field": "s", "equal": "uncorrupted"}}], "mark": {"type": "point", "filled": true, "size": 120, "opacity": 1, "color": "black"}}
 ],
 "resolve": {"scale": {"color": "independent", "shape": "independent"}}
},
{"title": {"text": "UCF101: SSIM", "anchor": "middle"}, "data": {"name": "p14"}, "width": 190, "height": 120,
 "encoding": {
  "x": {"field": "x", "type": "quantitative", "scale": {"nice": false, "zero": false, "padding": 8.64}, "axis": {"title": "Noise Ratio (%)", "values": [0,1,2,3,4,5,6,7,8,9,10,11,12,13,14,15,16,17,18,19,20], "labelExpr": "datum.value % 5 === 0 ? datum.label : ''", "gridColor": {"condition": {"test": "datum.value % 5 === 0", "value": "#c6c6c6"}, "value": "#e3e3e3"}, "gridDash": {"condition": {"test": "datum.value % 5 === 0", "value": [4,2]}, "value": [2,2]}, "gridWidth": {"condition": {"test": "datum.value % 5 === 0", "value": 1.1}, "value": 0.8}}},
  "y": {"field": "y", "type": "quantitative", "scale": {"nice": false, "zero": false, "padding": 5.45}, "axis": {"title": "SSIM ( ↑ )", "format": ".2f", "values": [0.042,0.044,0.046,0.048,0.05,0.052,0.054,0.056,0.058,0.06,0.062,0.064,0.066,0.068,0.07,0.072,0.074,0.076,0.078,0.08,0.082], "labelExpr": "abs(datum.value*100 - round(datum.value*100)) < 0.01 ? datum.label : ''", "gridColor": {"condition": {"test": "abs(datum.value*100 - round(datum.value*100)) < 0.01", "value": "#c6c6c6"}, "value": "#e3e3e3"}, "gridDash": {"condition": {"test": "abs(datum.value*100 - round(datum.value*100)) < 0.01", "value": [4,2]}, "value": [2,2]}, "gridWidth": {"condition": {"test": "abs(datum.value*100 - round(datum.value*100)) < 0.01", "value": 1.1}, "value": 0.8}}}
 },
 "layer": [
  {"transform": [{"filter": {"field": "s", "oneOf": ["add","perturb","remove","replace","swap"]}}], "mark": {"type": "line", "strokeWidth": 2}, "encoding": {"color": {"field": "s", "type": "nominal", "scale": {"domain": ["add","perturb","remove","replace","swap"], "range": ["#E69F00","#8B4513","#4B0082","#D55E00","#8B0000"]}, "legend": null}}},
  {"transform": [{"filter": {"field": "s", "oneOf": ["add","perturb","remove","replace","swap"]}}], "mark": {"type": "point", "filled": true, "size": 75, "opacity": 1, "stroke": "white", "strokeWidth": 0.6}, "encoding": {"color": {"field": "s", "type": "nominal", "scale": {"domain": ["add","perturb","remove","replace","swap"], "range": ["#E69F00","#8B4513","#4B0082","#D55E00","#8B0000"]}, "legend": null}, "shape": {"field": "s", "type": "nominal", "scale": {"domain": ["add","perturb","remove","replace","swap"], "range": ["triangle-up","triangle-down","triangle-right","diamond","triangle-left"]}, "legend": null}}},
  {"transform": [{"filter": {"field": "s", "oneOf": ["bcni","gaussian","hscan","sacn","tani","uniform"]}}], "mark": {"type": "line", "strokeWidth": 2}, "encoding": {"color": {"field": "s", "type": "nominal", "scale": {"domain": ["bcni","gaussian","hscan","sacn","tani","uniform"], "range": ["#0072B2","#6A5ACD","#CC79A7","#2CA02C","#2F4F4F","#20B2AA"]}, "legend": null}}},
  {"transform": [{"filter": {"field": "s", "oneOf": ["bcni","gaussian","hscan","sacn","tani","uniform"]}}], "mark": {"type": "point", "filled": true, "size": 75, "opacity": 1, "stroke": "white", "strokeWidth": 0.6}, "encoding": {"color": {"field": "s", "type": "nominal", "scale": {"domain": ["bcni","gaussian","hscan","sacn","tani","uniform"], "range": ["#0072B2","#6A5ACD","#CC79A7","#2CA02C","#2F4F4F","#20B2AA"]}, "legend": null}, "shape": {"field": "s", "type": "nominal", "scale": {"domain": ["bcni","gaussian","hscan","sacn","tani","uniform"], "range": ["circle","M0,-1L0.866,-0.5L0.866,0.5L0,1L-0.866,0.5L-0.866,-0.5Z","circle","square","M0,-1.15L0.62,0L0,1.15L-0.62,0Z","circle"]}, "legend": null}}},
  {"transform": [{"filter": {"field": "s", "equal": "uncorrupted"}}], "mark": {"type": "point", "filled": true, "size": 120, "opacity": 1, "color": "black"}}
 ],
 "resolve": {"scale": {"color": "independent", "shape": "independent"}}
},
{"title": {"text": "UCF101: PSNR", "anchor": "middle"}, "data": {"name": "p15"}, "width": 190, "height": 120,
 "encoding": {
  "x": {"field": "x", "type": "quantitative", "scale": {"nice": false, "zero": false, "padding": 8.64}, "axis": {"title": "Noise Ratio (%)", "values": [0,1,2,3,4,5,6,7,8,9,10,11,12,13,14,15,16,17,18,19,20], "labelExpr": "datum.value % 5 === 0 ? datum.label : ''", "gridColor": {"condition": {"test": "datum.value % 5 === 0", "value": "#c6c6c6"}, "value": "#e3e3e3"}, "gridDash": {"condition": {"test": "datum.value % 5 === 0", "value": [4,2]}, "value": [2,2]}, "gridWidth": {"condition": {"test": "datum.value % 5 === 0", "value": 1.1}, "value": 0.8}}},
  "y": {"field": "y", "type": "quantitative", "scale": {"nice": false, "zero": false, "padding": 5.45}, "axis": {"title": "PSNR ( ↑ )", "format": ".1f", "values": [8.84,8.88,8.92,8.96,9,9.04,9.08,9.12,9.16,9.2,9.24,9.28,9.32,9.36,9.4,9.44,9.48,9.52,9.56,9.6,9.64,9.68,9.72,9.76], "labelExpr": "abs(datum.value*5 - round(datum.value*5)) < 0.01 ? datum.label : ''", "gridColor": {"condition": {"test": "abs(datum.value*5 - round(datum.value*5)) < 0.01", "value": "#c6c6c6"}, "value": "#e3e3e3"}, "gridDash": {"condition": {"test": "abs(datum.value*5 - round(datum.value*5)) < 0.01", "value": [4,2]}, "value": [2,2]}, "gridWidth": {"condition": {"test": "abs(datum.value*5 - round(datum.value*5)) < 0.01", "value": 1.1}, "value": 0.8}}}
 },
 "layer": [
  {"transform": [{"filter": {"field": "s", "oneOf": ["add","perturb","remove","replace","swap"]}}], "mark": {"type": "line", "strokeWidth": 2}, "encoding": {"color": {"field": "s", "type": "nominal", "scale": {"domain": ["add","perturb","remove","replace","swap"], "range": ["#E69F00","#8B4513","#4B0082","#D55E00","#8B0000"]}, "legend": null}}},
  {"transform": [{"filter": {"field": "s", "oneOf": ["add","perturb","remove","replace","swap"]}}], "mark": {"type": "point", "filled": true, "size": 75, "opacity": 1, "stroke": "white", "strokeWidth": 0.6}, "encoding": {"color": {"field": "s", "type": "nominal", "scale": {"domain": ["add","perturb","remove","replace","swap"], "range": ["#E69F00","#8B4513","#4B0082","#D55E00","#8B0000"]}, "legend": null}, "shape": {"field": "s", "type": "nominal", "scale": {"domain": ["add","perturb","remove","replace","swap"], "range": ["triangle-up","triangle-down","triangle-right","diamond","triangle-left"]}, "legend": null}}},
  {"transform": [{"filter": {"field": "s", "oneOf": ["bcni","gaussian","hscan","sacn","tani","uniform"]}}], "mark": {"type": "line", "strokeWidth": 2}, "encoding": {"color": {"field": "s", "type": "nominal", "scale": {"domain": ["bcni","gaussian","hscan","sacn","tani","uniform"], "range": ["#0072B2","#6A5ACD","#CC79A7","#2CA02C","#2F4F4F","#20B2AA"]}, "legend": null}}},
  {"transform": [{"filter": {"field": "s", "oneOf": ["bcni","gaussian","hscan","sacn","tani","uniform"]}}], "mark": {"type": "point", "filled": true, "size": 75, "opacity": 1, "stroke": "white", "strokeWidth": 0.6}, "encoding": {"color": {"field": "s", "type": "nominal", "scale": {"domain": ["bcni","gaussian","hscan","sacn","tani","uniform"], "range": ["#0072B2","#6A5ACD","#CC79A7","#2CA02C","#2F4F4F","#20B2AA"]}, "legend": null}, "shape": {"field": "s", "type": "nominal", "scale": {"domain": ["bcni","gaussian","hscan","sacn","tani","uniform"], "range": ["circle","M0,-1L0.866,-0.5L0.866,0.5L0,1L-0.866,0.5L-0.866,-0.5Z","circle","square","M0,-1.15L0.62,0L0,1.15L-0.62,0Z","circle"]}, "legend": null}}},
  {"transform": [{"filter": {"field": "s", "equal": "uncorrupted"}}], "mark": {"type": "point", "filled": true, "size": 120, "opacity": 1, "color": "black"}}
 ],
 "resolve": {"scale": {"color": "independent", "shape": "independent"}}
},
{"title": {"text": "UCF101: LPIPS", "anchor": "middle"}, "data": {"name": "p16"}, "width": 190, "height": 120,
 "encoding": {
  "x": {"field": "x", "type": "quantitative", "scale": {"nice": false, "zero": false, "padding": 8.64}, "axis": {"title": "Noise Ratio (%)", "values": [0,1,2,3,4,5,6,7,8,9,10,11,12,13,14,15,16,17,18,19,20], "labelExpr": "datum.value % 5 === 0 ? datum.label : ''", "gridColor": {"condition": {"test": "datum.value % 5 === 0", "value": "#c6c6c6"}, "value": "#e3e3e3"}, "gridDash": {"condition": {"test": "datum.value % 5 === 0", "value": [4,2]}, "value": [2,2]}, "gridWidth": {"condition": {"test": "datum.value % 5 === 0", "value": 1.1}, "value": 0.8}}},
  "y": {"field": "y", "type": "quantitative", "scale": {"nice": false, "zero": false, "padding": 5.45}, "axis": {"title": "LPIPS ( ↓ )", "format": ".2f", "values": [0.532,0.536,0.54,0.544,0.548,0.552,0.556,0.56,0.564,0.568,0.572,0.576,0.58,0.584,0.588,0.592,0.596,0.6,0.604], "labelExpr": "abs(datum.value*50 - round(datum.value*50)) < 0.01 ? datum.label : ''", "gridColor": {"condition": {"test": "abs(datum.value*50 - round(datum.value*50)) < 0.01", "value": "#c6c6c6"}, "value": "#e3e3e3"}, "gridDash": {"condition": {"test": "abs(datum.value*50 - round(datum.value*50)) < 0.01", "value": [4,2]}, "value": [2,2]}, "gridWidth": {"condition": {"test": "abs(datum.value*50 - round(datum.value*50)) < 0.01", "value": 1.1}, "value": 0.8}}}
 },
 "layer": [
  {"transform": [{"filter": {"field": "s", "oneOf": ["add","perturb","remove","replace","swap"]}}], "mark": {"type": "line", "strokeWidth": 2}, "encoding": {"color": {"field": "s", "type": "nominal", "scale": {"domain": ["add","perturb","remove","replace","swap"], "range": ["#E69F00","#8B4513","#4B0082","#D55E00","#8B0000"]}, "legend": null}}},
  {"transform": [{"filter": {"field": "s", "oneOf": ["add","perturb","remove","replace","swap"]}}], "mark": {"type": "point", "filled": true, "size": 75, "opacity": 1, "stroke": "white", "strokeWidth": 0.6}, "encoding": {"color": {"field": "s", "type": "nominal", "scale": {"domain": ["add","perturb","remove","replace","swap"], "range": ["#E69F00","#8B4513","#4B0082","#D55E00","#8B0000"]}, "legend": null}, "shape": {"field": "s", "type": "nominal", "scale": {"domain": ["add","perturb","remove","replace","swap"], "range": ["triangle-up","triangle-down","triangle-right","diamond","triangle-left"]}, "legend": null}}},
  {"transform": [{"filter": {"field": "s", "oneOf": ["bcni","gaussian","hscan","sacn","tani","uniform"]}}], "mark": {"type": "line", "strokeWidth": 2}, "encoding": {"color": {"field": "s", "type": "nominal", "scale": {"domain": ["bcni","gaussian","hscan","sacn","tani","uniform"], "range": ["#0072B2","#6A5ACD","#CC79A7","#2CA02C","#2F4F4F","#20B2AA"]}, "legend": null}}},
  {"transform": [{"filter": {"field": "s", "oneOf": ["bcni","gaussian","hscan","sacn","tani","uniform"]}}], "mark": {"type": "point", "filled": true, "size": 75, "opacity": 1, "stroke": "white", "strokeWidth": 0.6}, "encoding": {"color": {"field": "s", "type": "nominal", "scale": {"domain": ["bcni","gaussian","hscan","sacn","tani","uniform"], "range": ["#0072B2","#6A5ACD","#CC79A7","#2CA02C","#2F4F4F","#20B2AA"]}, "legend": null}, "shape": {"field": "s", "type": "nominal", "scale": {"domain": ["bcni","gaussian","hscan","sacn","tani","uniform"], "range": ["circle","M0,-1L0.866,-0.5L0.866,0.5L0,1L-0.866,0.5L-0.866,-0.5Z","circle","square","M0,-1.15L0.62,0L0,1.15L-0.62,0Z","circle"]}, "legend": null}}},
  {"transform": [{"filter": {"field": "s", "equal": "uncorrupted"}}], "mark": {"type": "point", "filled": true, "size": 120, "opacity": 1, "color": "black"}}
 ],
 "resolve": {"scale": {"color": "independent", "shape": "independent"}}
}
 ]
}
]
}
